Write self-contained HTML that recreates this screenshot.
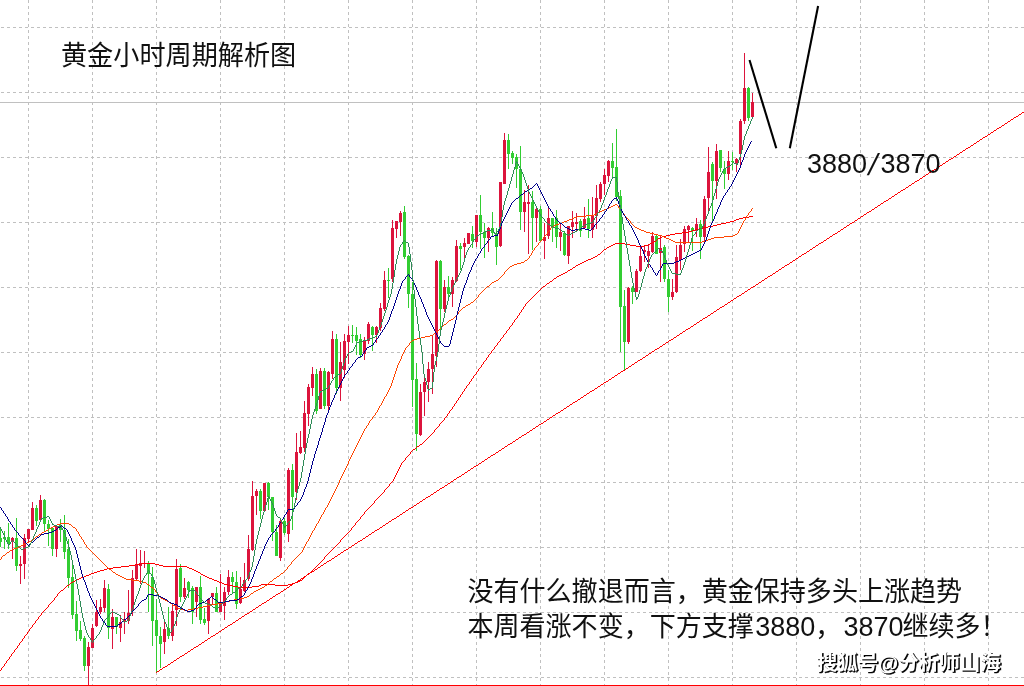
<!DOCTYPE html>
<html lang="zh-CN"><head><meta charset="utf-8"><title>黄金小时周期解析图</title>
<style>
html,body{margin:0;padding:0;background:#fff;}
body{width:1024px;height:686px;overflow:hidden;position:relative;}
svg{display:block;position:absolute;left:0;top:0;will-change:transform;}
.t{font-family:"Liberation Sans","Noto Sans CJK SC",sans-serif;fill:#111;}
</style></head><body>
<svg width="1024" height="686" viewBox="0 0 1024 686">
<rect x="0" y="0" width="1024" height="686" fill="#ffffff"/>
<g stroke="#c0c0c0" stroke-width="1" stroke-dasharray="3 3" shape-rendering="crispEdges" fill="none">
<line x1="28.5" y1="0" x2="28.5" y2="686"/>
<line x1="92.5" y1="0" x2="92.5" y2="686"/>
<line x1="156.5" y1="0" x2="156.5" y2="686"/>
<line x1="220.5" y1="0" x2="220.5" y2="686"/>
<line x1="284.5" y1="0" x2="284.5" y2="686"/>
<line x1="348.5" y1="0" x2="348.5" y2="686"/>
<line x1="412.5" y1="0" x2="412.5" y2="686"/>
<line x1="476.5" y1="0" x2="476.5" y2="686"/>
<line x1="540.5" y1="0" x2="540.5" y2="686"/>
<line x1="604.5" y1="0" x2="604.5" y2="686"/>
<line x1="668.5" y1="0" x2="668.5" y2="686"/>
<line x1="732.5" y1="0" x2="732.5" y2="686"/>
<line x1="796.5" y1="0" x2="796.5" y2="686"/>
<line x1="860.5" y1="0" x2="860.5" y2="686"/>
<line x1="924.5" y1="0" x2="924.5" y2="686"/>
<line x1="988.5" y1="0" x2="988.5" y2="686"/>
<line x1="1" y1="27.5" x2="1024" y2="27.5"/>
<line x1="1" y1="92.5" x2="1024" y2="92.5"/>
<line x1="1" y1="157.5" x2="1024" y2="157.5"/>
<line x1="1" y1="222.5" x2="1024" y2="222.5"/>
<line x1="1" y1="287.5" x2="1024" y2="287.5"/>
<line x1="1" y1="352.5" x2="1024" y2="352.5"/>
<line x1="1" y1="417.5" x2="1024" y2="417.5"/>
<line x1="1" y1="482.5" x2="1024" y2="482.5"/>
<line x1="1" y1="547.5" x2="1024" y2="547.5"/>
<line x1="1" y1="612.5" x2="1024" y2="612.5"/>
<line x1="1" y1="677.5" x2="1024" y2="677.5"/>
</g>
<line x1="0" y1="102.5" x2="1024" y2="102.5" stroke="#c0c0c0" stroke-width="1" shape-rendering="crispEdges"/>
<g fill="#32cd32" shape-rendering="crispEdges">
<rect x="0" y="527" width="1" height="20"/><rect x="-1" y="538" width="3" height="4"/>
<rect x="4" y="531" width="1" height="18"/><rect x="3" y="537" width="3" height="2"/>
<rect x="8" y="523" width="1" height="26"/><rect x="7" y="537" width="3" height="7"/>
<rect x="16" y="518" width="1" height="53"/><rect x="15" y="538" width="3" height="28"/>
<rect x="36" y="505" width="1" height="21"/><rect x="35" y="508" width="3" height="13"/>
<rect x="44" y="499" width="1" height="32"/><rect x="43" y="500" width="3" height="24"/>
<rect x="48" y="520" width="1" height="26"/><rect x="47" y="524" width="3" height="5"/>
<rect x="52" y="528" width="1" height="28"/><rect x="51" y="528" width="3" height="21"/>
<rect x="60" y="519" width="1" height="23"/><rect x="59" y="525" width="3" height="5"/>
<rect x="64" y="515" width="1" height="44"/><rect x="63" y="530" width="3" height="22"/>
<rect x="68" y="539" width="1" height="49"/><rect x="67" y="549" width="3" height="29"/>
<rect x="72" y="565" width="1" height="54"/><rect x="71" y="577" width="3" height="38"/>
<rect x="76" y="601" width="1" height="40"/><rect x="75" y="614" width="3" height="17"/>
<rect x="80" y="621" width="1" height="20"/><rect x="79" y="630" width="3" height="9"/>
<rect x="84" y="636" width="1" height="35"/><rect x="83" y="638" width="3" height="28"/>
<rect x="108" y="584" width="1" height="55"/><rect x="107" y="589" width="3" height="39"/>
<rect x="116" y="617" width="1" height="17"/><rect x="115" y="617" width="3" height="10"/>
<rect x="148" y="561" width="1" height="51"/><rect x="147" y="564" width="3" height="10"/>
<rect x="152" y="567" width="1" height="79"/><rect x="151" y="577" width="3" height="44"/>
<rect x="156" y="599" width="1" height="73"/><rect x="155" y="620" width="3" height="16"/>
<rect x="160" y="627" width="1" height="41"/><rect x="159" y="636" width="3" height="8"/>
<rect x="168" y="607" width="1" height="32"/><rect x="167" y="628" width="3" height="8"/>
<rect x="180" y="564" width="1" height="38"/><rect x="179" y="568" width="3" height="29"/>
<rect x="188" y="581" width="1" height="17"/><rect x="187" y="582" width="3" height="8"/>
<rect x="192" y="586" width="1" height="38"/><rect x="191" y="588" width="3" height="24"/>
<rect x="200" y="576" width="1" height="48"/><rect x="199" y="587" width="3" height="33"/>
<rect x="204" y="608" width="1" height="17"/><rect x="203" y="619" width="3" height="4"/>
<rect x="216" y="587" width="1" height="25"/><rect x="215" y="593" width="3" height="19"/>
<rect x="232" y="572" width="1" height="22"/><rect x="231" y="577" width="3" height="5"/>
<rect x="236" y="571" width="1" height="38"/><rect x="235" y="582" width="3" height="22"/>
<rect x="260" y="489" width="1" height="30"/><rect x="259" y="491" width="3" height="20"/>
<rect x="268" y="482" width="1" height="28"/><rect x="267" y="483" width="3" height="14"/>
<rect x="272" y="497" width="1" height="44"/><rect x="271" y="497" width="3" height="35"/>
<rect x="276" y="525" width="1" height="31"/><rect x="275" y="532" width="3" height="24"/>
<rect x="284" y="518" width="1" height="17"/><rect x="283" y="521" width="3" height="12"/>
<rect x="292" y="464" width="1" height="66"/><rect x="291" y="470" width="3" height="27"/>
<rect x="316" y="369" width="1" height="45"/><rect x="315" y="374" width="3" height="37"/>
<rect x="324" y="368" width="1" height="41"/><rect x="323" y="371" width="3" height="35"/>
<rect x="336" y="334" width="1" height="60"/><rect x="335" y="339" width="3" height="49"/>
<rect x="352" y="325" width="1" height="18"/><rect x="351" y="335" width="3" height="1"/>
<rect x="356" y="327" width="1" height="28"/><rect x="355" y="335" width="3" height="6"/>
<rect x="360" y="334" width="1" height="24"/><rect x="359" y="339" width="3" height="16"/>
<rect x="372" y="326" width="1" height="25"/><rect x="371" y="327" width="3" height="8"/>
<rect x="388" y="268" width="1" height="30"/><rect x="387" y="280" width="3" height="1"/>
<rect x="404" y="206" width="1" height="53"/><rect x="403" y="212" width="3" height="45"/>
<rect x="408" y="255" width="1" height="53"/><rect x="407" y="256" width="3" height="38"/>
<rect x="412" y="282" width="1" height="125"/><rect x="411" y="294" width="3" height="86"/>
<rect x="416" y="363" width="1" height="88"/><rect x="415" y="379" width="3" height="55"/>
<rect x="440" y="260" width="1" height="72"/><rect x="439" y="261" width="3" height="48"/>
<rect x="448" y="276" width="1" height="21"/><rect x="447" y="287" width="3" height="7"/>
<rect x="460" y="243" width="1" height="27"/><rect x="459" y="246" width="3" height="3"/>
<rect x="472" y="226" width="1" height="22"/><rect x="471" y="234" width="3" height="7"/>
<rect x="480" y="195" width="1" height="54"/><rect x="479" y="215" width="3" height="17"/>
<rect x="484" y="223" width="1" height="35"/><rect x="483" y="232" width="3" height="6"/>
<rect x="492" y="212" width="1" height="24"/><rect x="491" y="228" width="3" height="5"/>
<rect x="496" y="228" width="1" height="37"/><rect x="495" y="233" width="3" height="14"/>
<rect x="508" y="134" width="1" height="35"/><rect x="507" y="140" width="3" height="14"/>
<rect x="512" y="151" width="1" height="13"/><rect x="511" y="153" width="3" height="5"/>
<rect x="516" y="154" width="1" height="34"/><rect x="515" y="157" width="3" height="12"/>
<rect x="520" y="146" width="1" height="84"/><rect x="519" y="169" width="3" height="43"/>
<rect x="532" y="191" width="1" height="59"/><rect x="531" y="202" width="3" height="16"/>
<rect x="540" y="206" width="1" height="35"/><rect x="539" y="209" width="3" height="32"/>
<rect x="552" y="218" width="1" height="24"/><rect x="551" y="218" width="3" height="8"/>
<rect x="556" y="210" width="1" height="38"/><rect x="555" y="218" width="3" height="19"/>
<rect x="564" y="231" width="1" height="25"/><rect x="563" y="233" width="3" height="22"/>
<rect x="580" y="219" width="1" height="18"/><rect x="579" y="221" width="3" height="10"/>
<rect x="588" y="199" width="1" height="39"/><rect x="587" y="218" width="3" height="11"/>
<rect x="612" y="143" width="1" height="35"/><rect x="611" y="161" width="3" height="7"/>
<rect x="616" y="129" width="1" height="72"/><rect x="615" y="167" width="3" height="30"/>
<rect x="620" y="190" width="1" height="162"/><rect x="619" y="196" width="3" height="111"/>
<rect x="624" y="290" width="1" height="80"/><rect x="623" y="306" width="3" height="36"/>
<rect x="632" y="286" width="1" height="18"/><rect x="631" y="288" width="3" height="4"/>
<rect x="656" y="235" width="1" height="19"/><rect x="655" y="236" width="3" height="18"/>
<rect x="664" y="245" width="1" height="37"/><rect x="663" y="247" width="3" height="32"/>
<rect x="668" y="270" width="1" height="42"/><rect x="667" y="279" width="3" height="18"/>
<rect x="692" y="227" width="1" height="24"/><rect x="691" y="228" width="3" height="3"/>
<rect x="700" y="220" width="1" height="39"/><rect x="699" y="224" width="3" height="13"/>
<rect x="712" y="162" width="1" height="60"/><rect x="711" y="164" width="3" height="17"/>
<rect x="720" y="150" width="1" height="22"/><rect x="719" y="150" width="3" height="18"/>
<rect x="724" y="161" width="1" height="28"/><rect x="723" y="169" width="3" height="5"/>
<rect x="732" y="152" width="1" height="18"/><rect x="731" y="161" width="3" height="1"/>
<rect x="748" y="87" width="1" height="34"/><rect x="747" y="88" width="3" height="30"/>
</g>
<g fill="#dc143c" shape-rendering="crispEdges">
<rect x="12" y="537" width="1" height="22"/><rect x="11" y="538" width="3" height="3"/>
<rect x="20" y="556" width="1" height="28"/><rect x="19" y="564" width="3" height="2"/>
<rect x="24" y="534" width="1" height="45"/><rect x="23" y="538" width="3" height="26"/>
<rect x="28" y="529" width="1" height="13"/><rect x="27" y="529" width="3" height="10"/>
<rect x="32" y="502" width="1" height="28"/><rect x="31" y="508" width="3" height="22"/>
<rect x="40" y="495" width="1" height="25"/><rect x="39" y="500" width="3" height="20"/>
<rect x="56" y="526" width="1" height="31"/><rect x="55" y="526" width="3" height="23"/>
<rect x="88" y="642" width="1" height="43"/><rect x="87" y="647" width="3" height="19"/>
<rect x="92" y="624" width="1" height="24"/><rect x="91" y="628" width="3" height="20"/>
<rect x="96" y="600" width="1" height="27"/><rect x="95" y="612" width="3" height="14"/>
<rect x="100" y="599" width="1" height="15"/><rect x="99" y="607" width="3" height="5"/>
<rect x="104" y="580" width="1" height="32"/><rect x="103" y="588" width="3" height="20"/>
<rect x="112" y="609" width="1" height="40"/><rect x="111" y="617" width="3" height="12"/>
<rect x="120" y="615" width="1" height="27"/><rect x="119" y="622" width="3" height="6"/>
<rect x="124" y="612" width="1" height="22"/><rect x="123" y="619" width="3" height="3"/>
<rect x="128" y="590" width="1" height="34"/><rect x="127" y="613" width="3" height="8"/>
<rect x="132" y="570" width="1" height="46"/><rect x="131" y="578" width="3" height="33"/>
<rect x="136" y="549" width="1" height="32"/><rect x="135" y="564" width="3" height="15"/>
<rect x="140" y="550" width="1" height="34"/><rect x="139" y="563" width="3" height="3"/>
<rect x="144" y="551" width="1" height="17"/><rect x="143" y="563" width="3" height="1"/>
<rect x="164" y="621" width="1" height="33"/><rect x="163" y="629" width="3" height="13"/>
<rect x="172" y="605" width="1" height="36"/><rect x="171" y="611" width="3" height="25"/>
<rect x="176" y="559" width="1" height="67"/><rect x="175" y="569" width="3" height="41"/>
<rect x="184" y="578" width="1" height="21"/><rect x="183" y="588" width="3" height="9"/>
<rect x="196" y="587" width="1" height="30"/><rect x="195" y="587" width="3" height="15"/>
<rect x="208" y="598" width="1" height="36"/><rect x="207" y="599" width="3" height="22"/>
<rect x="212" y="593" width="1" height="11"/><rect x="211" y="593" width="3" height="4"/>
<rect x="220" y="574" width="1" height="38"/><rect x="219" y="602" width="3" height="10"/>
<rect x="224" y="587" width="1" height="33"/><rect x="223" y="592" width="3" height="14"/>
<rect x="228" y="570" width="1" height="25"/><rect x="227" y="577" width="3" height="15"/>
<rect x="240" y="577" width="1" height="27"/><rect x="239" y="589" width="3" height="14"/>
<rect x="244" y="563" width="1" height="29"/><rect x="243" y="580" width="3" height="11"/>
<rect x="248" y="535" width="1" height="46"/><rect x="247" y="549" width="3" height="30"/>
<rect x="252" y="481" width="1" height="70"/><rect x="251" y="496" width="3" height="54"/>
<rect x="256" y="489" width="1" height="26"/><rect x="255" y="491" width="3" height="5"/>
<rect x="264" y="483" width="1" height="29"/><rect x="263" y="483" width="3" height="28"/>
<rect x="280" y="520" width="1" height="41"/><rect x="279" y="521" width="3" height="37"/>
<rect x="288" y="468" width="1" height="74"/><rect x="287" y="470" width="3" height="64"/>
<rect x="296" y="433" width="1" height="67"/><rect x="295" y="452" width="3" height="40"/>
<rect x="300" y="431" width="1" height="23"/><rect x="299" y="447" width="3" height="6"/>
<rect x="304" y="401" width="1" height="51"/><rect x="303" y="413" width="3" height="35"/>
<rect x="308" y="384" width="1" height="42"/><rect x="307" y="387" width="3" height="27"/>
<rect x="312" y="367" width="1" height="29"/><rect x="311" y="374" width="3" height="14"/>
<rect x="320" y="368" width="1" height="41"/><rect x="319" y="371" width="3" height="38"/>
<rect x="328" y="371" width="1" height="39"/><rect x="327" y="372" width="3" height="34"/>
<rect x="332" y="331" width="1" height="48"/><rect x="331" y="339" width="3" height="35"/>
<rect x="340" y="342" width="1" height="59"/><rect x="339" y="362" width="3" height="26"/>
<rect x="344" y="334" width="1" height="44"/><rect x="343" y="341" width="3" height="29"/>
<rect x="348" y="326" width="1" height="38"/><rect x="347" y="335" width="3" height="7"/>
<rect x="364" y="337" width="1" height="23"/><rect x="363" y="340" width="3" height="14"/>
<rect x="368" y="322" width="1" height="22"/><rect x="367" y="324" width="3" height="17"/>
<rect x="376" y="326" width="1" height="17"/><rect x="375" y="327" width="3" height="8"/>
<rect x="380" y="303" width="1" height="28"/><rect x="379" y="308" width="3" height="20"/>
<rect x="384" y="271" width="1" height="40"/><rect x="383" y="280" width="3" height="29"/>
<rect x="392" y="220" width="1" height="62"/><rect x="391" y="228" width="3" height="51"/>
<rect x="396" y="221" width="1" height="17"/><rect x="395" y="221" width="3" height="8"/>
<rect x="400" y="211" width="1" height="25"/><rect x="399" y="213" width="3" height="9"/>
<rect x="420" y="384" width="1" height="52"/><rect x="419" y="392" width="3" height="43"/>
<rect x="424" y="378" width="1" height="38"/><rect x="423" y="382" width="3" height="10"/>
<rect x="428" y="362" width="1" height="40"/><rect x="427" y="369" width="3" height="13"/>
<rect x="432" y="335" width="1" height="59"/><rect x="431" y="354" width="3" height="15"/>
<rect x="436" y="260" width="1" height="107"/><rect x="435" y="261" width="3" height="95"/>
<rect x="444" y="280" width="1" height="32"/><rect x="443" y="287" width="3" height="22"/>
<rect x="452" y="277" width="1" height="30"/><rect x="451" y="280" width="3" height="14"/>
<rect x="456" y="240" width="1" height="42"/><rect x="455" y="246" width="3" height="35"/>
<rect x="464" y="238" width="1" height="21"/><rect x="463" y="243" width="3" height="4"/>
<rect x="468" y="233" width="1" height="11"/><rect x="467" y="233" width="3" height="11"/>
<rect x="476" y="215" width="1" height="32"/><rect x="475" y="215" width="3" height="27"/>
<rect x="488" y="227" width="1" height="25"/><rect x="487" y="228" width="3" height="10"/>
<rect x="500" y="182" width="1" height="65"/><rect x="499" y="182" width="3" height="64"/>
<rect x="504" y="133" width="1" height="51"/><rect x="503" y="140" width="3" height="44"/>
<rect x="524" y="190" width="1" height="42"/><rect x="523" y="202" width="3" height="10"/>
<rect x="528" y="185" width="1" height="69"/><rect x="527" y="202" width="3" height="2"/>
<rect x="536" y="207" width="1" height="35"/><rect x="535" y="209" width="3" height="9"/>
<rect x="544" y="223" width="1" height="36"/><rect x="543" y="237" width="3" height="4"/>
<rect x="548" y="208" width="1" height="31"/><rect x="547" y="218" width="3" height="18"/>
<rect x="560" y="224" width="1" height="27"/><rect x="559" y="232" width="3" height="5"/>
<rect x="568" y="226" width="1" height="38"/><rect x="567" y="226" width="3" height="30"/>
<rect x="572" y="211" width="1" height="27"/><rect x="571" y="222" width="3" height="5"/>
<rect x="576" y="213" width="1" height="19"/><rect x="575" y="222" width="3" height="2"/>
<rect x="584" y="207" width="1" height="22"/><rect x="583" y="219" width="3" height="9"/>
<rect x="592" y="197" width="1" height="41"/><rect x="591" y="216" width="3" height="14"/>
<rect x="596" y="185" width="1" height="44"/><rect x="595" y="198" width="3" height="18"/>
<rect x="600" y="182" width="1" height="20"/><rect x="599" y="184" width="3" height="15"/>
<rect x="604" y="169" width="1" height="26"/><rect x="603" y="175" width="3" height="9"/>
<rect x="608" y="160" width="1" height="22"/><rect x="607" y="161" width="3" height="15"/>
<rect x="628" y="287" width="1" height="57"/><rect x="627" y="288" width="3" height="54"/>
<rect x="636" y="269" width="1" height="23"/><rect x="635" y="271" width="3" height="21"/>
<rect x="640" y="246" width="1" height="26"/><rect x="639" y="256" width="3" height="15"/>
<rect x="644" y="246" width="1" height="16"/><rect x="643" y="250" width="3" height="2"/>
<rect x="648" y="245" width="1" height="23"/><rect x="647" y="251" width="3" height="5"/>
<rect x="652" y="232" width="1" height="21"/><rect x="651" y="236" width="3" height="16"/>
<rect x="660" y="236" width="1" height="46"/><rect x="659" y="248" width="3" height="5"/>
<rect x="672" y="279" width="1" height="21"/><rect x="671" y="292" width="3" height="5"/>
<rect x="676" y="245" width="1" height="48"/><rect x="675" y="257" width="3" height="35"/>
<rect x="680" y="239" width="1" height="31"/><rect x="679" y="245" width="3" height="15"/>
<rect x="684" y="226" width="1" height="26"/><rect x="683" y="229" width="3" height="15"/>
<rect x="688" y="225" width="1" height="18"/><rect x="687" y="226" width="3" height="4"/>
<rect x="696" y="218" width="1" height="19"/><rect x="695" y="224" width="3" height="7"/>
<rect x="704" y="196" width="1" height="45"/><rect x="703" y="199" width="3" height="38"/>
<rect x="708" y="147" width="1" height="65"/><rect x="707" y="172" width="3" height="26"/>
<rect x="716" y="144" width="1" height="55"/><rect x="715" y="151" width="3" height="30"/>
<rect x="728" y="151" width="1" height="29"/><rect x="727" y="161" width="3" height="13"/>
<rect x="736" y="158" width="1" height="14"/><rect x="735" y="159" width="3" height="5"/>
<rect x="740" y="119" width="1" height="49"/><rect x="739" y="121" width="3" height="33"/>
<rect x="744" y="53" width="1" height="71"/><rect x="743" y="88" width="3" height="33"/>
<rect x="752" y="93" width="1" height="26"/><rect x="751" y="102" width="3" height="15"/>
</g>
<path fill="#ff0000" shape-rendering="crispEdges" d="M1 668h1v2h-1zM4 664h1v2h-1zM6 661h1v2h-1zM9 657h1v2h-1zM11 654h1v2h-1zM14 650h1v2h-1zM17 646h1v2h-1zM19 643h1v2h-1zM22 639h1v2h-1zM24 636h1v2h-1zM27 632h1v2h-1zM29 629h1v2h-1zM32 625h1v2h-1zM35 621h1v2h-1zM38 617h1v2h-1zM41 613h1v2h-1zM48 605h1v2h-1zM54 598h1v2h-1zM57 594h1v2h-1zM324 557h1v2h-1zM340 540h1v2h-1zM351 528h1v2h-1zM355 523h1v2h-1zM360 517h1v2h-1zM364 512h1v2h-1zM374 501h1v2h-1zM384 490h1v2h-1zM389 484h1v2h-1zM393 479h1v2h-1zM394 477h1v2h-1zM395 475h1v2h-1zM396 473h1v2h-1zM397 471h1v2h-1zM398 469h1v2h-1zM399 467h1v2h-1zM400 465h1v2h-1zM401 463h1v2h-1zM405 458h1v2h-1zM410 452h1v2h-1zM434 430h1v2h-1zM439 424h1v2h-1zM444 418h1v2h-1zM447 414h1v2h-1zM449 411h1v2h-1zM452 407h1v2h-1zM454 404h1v2h-1zM456 401h1v2h-1zM458 398h1v2h-1zM460 395h1v2h-1zM462 392h1v2h-1zM464 389h1v2h-1zM466 386h1v2h-1zM469 382h1v2h-1zM471 379h1v2h-1zM473 376h1v2h-1zM476 372h1v2h-1zM478 369h1v2h-1zM481 365h1v2h-1zM483 362h1v2h-1zM486 358h1v2h-1zM488 355h1v2h-1zM491 351h1v2h-1zM494 347h1v2h-1zM497 343h1v2h-1zM500 339h1v2h-1zM503 335h1v2h-1zM506 331h1v2h-1zM509 327h1v2h-1zM512 323h1v2h-1zM514 320h1v2h-1zM517 316h1v2h-1zM519 313h1v2h-1zM521 310h1v2h-1zM523 307h1v2h-1zM525 304h1v2h-1zM749 216h4v1h-4zM743 217h6v1h-6zM739 218h4v1h-4zM736 219h3v1h-3zM734 220h2v1h-2zM730 221h4v1h-4zM726 222h4v1h-4zM721 223h5v1h-5zM717 224h4v1h-4zM713 225h4v1h-4zM708 226h5v1h-5zM703 227h5v1h-5zM699 228h4v1h-4zM695 229h4v1h-4zM692 230h3v1h-3zM689 231h3v1h-3zM682 232h7v1h-7zM675 233h7v1h-7zM670 234h5v1h-5zM666 235h4v1h-4zM662 236h4v1h-4zM660 237h2v1h-2zM658 238h2v1h-2zM657 239h1v1h-1zM656 240h1v1h-1zM654 241h2v1h-2zM652 242h2v1h-2zM615 243h10v1h-10zM650 243h2v1h-2zM613 244h2v1h-2zM625 244h5v1h-5zM648 244h2v1h-2zM611 245h2v1h-2zM630 245h6v1h-6zM644 245h4v1h-4zM609 246h2v1h-2zM636 246h8v1h-8zM607 247h2v1h-2zM606 248h1v1h-1zM604 249h2v1h-2zM603 250h1v1h-1zM602 251h1v1h-1zM601 252h1v1h-1zM600 253h1v1h-1zM598 254h2v1h-2zM597 255h1v1h-1zM595 256h2v1h-2zM593 257h2v1h-2zM591 258h2v1h-2zM588 259h3v1h-3zM586 260h2v1h-2zM584 261h2v1h-2zM582 262h2v1h-2zM580 263h2v1h-2zM578 264h2v1h-2zM576 265h2v1h-2zM575 266h1v1h-1zM573 267h2v1h-2zM572 268h1v1h-1zM570 269h2v1h-2zM568 270h2v1h-2zM567 271h1v1h-1zM565 272h2v1h-2zM563 273h2v1h-2zM561 274h2v1h-2zM559 275h2v1h-2zM557 276h2v1h-2zM556 277h1v1h-1zM554 278h2v1h-2zM553 279h1v1h-1zM552 280h1v1h-1zM550 281h2v1h-2zM549 282h1v1h-1zM547 283h2v1h-2zM546 284h1v1h-1zM545 285h1v1h-1zM543 286h2v1h-2zM542 287h1v1h-1zM541 288h1v1h-1zM540 289h1v1h-1zM539 290h1v1h-1zM538 291h1v1h-1zM537 292h1v1h-1zM536 293h1v1h-1zM535 294h1v1h-1zM534 295h1v1h-1zM533 296h1v1h-1zM532 297h1v1h-1zM531 298h1v1h-1zM530 299h1v1h-1zM529 300h1v1h-1zM528 301h1v1h-1zM527 302h1v1h-1zM526 303h1v1h-1zM524 306h1v1h-1zM522 309h1v1h-1zM520 312h1v1h-1zM518 315h1v1h-1zM516 318h1v1h-1zM515 319h1v1h-1zM513 322h1v1h-1zM511 325h1v1h-1zM510 326h1v1h-1zM508 329h1v1h-1zM507 330h1v1h-1zM505 333h1v1h-1zM504 334h1v1h-1zM502 337h1v1h-1zM501 338h1v1h-1zM499 341h1v1h-1zM498 342h1v1h-1zM496 345h1v1h-1zM495 346h1v1h-1zM493 349h1v1h-1zM492 350h1v1h-1zM490 353h1v1h-1zM489 354h1v1h-1zM487 357h1v1h-1zM485 360h1v1h-1zM484 361h1v1h-1zM482 364h1v1h-1zM480 367h1v1h-1zM479 368h1v1h-1zM477 371h1v1h-1zM475 374h1v1h-1zM474 375h1v1h-1zM472 378h1v1h-1zM470 381h1v1h-1zM468 384h1v1h-1zM467 385h1v1h-1zM465 388h1v1h-1zM463 391h1v1h-1zM461 394h1v1h-1zM459 397h1v1h-1zM457 400h1v1h-1zM455 403h1v1h-1zM453 406h1v1h-1zM451 409h1v1h-1zM450 410h1v1h-1zM448 413h1v1h-1zM446 416h1v1h-1zM445 417h1v1h-1zM443 420h1v1h-1zM442 421h1v1h-1zM441 422h1v1h-1zM440 423h1v1h-1zM438 426h1v1h-1zM437 427h1v1h-1zM436 428h1v1h-1zM435 429h1v1h-1zM433 432h1v1h-1zM432 433h1v1h-1zM431 434h1v1h-1zM430 435h1v1h-1zM429 436h1v1h-1zM428 437h1v1h-1zM427 438h1v1h-1zM426 439h1v1h-1zM425 440h1v1h-1zM424 441h1v1h-1zM423 442h1v1h-1zM422 443h1v1h-1zM420 444h2v1h-2zM419 445h1v1h-1zM417 446h2v1h-2zM416 447h1v1h-1zM415 448h1v1h-1zM413 449h2v1h-2zM412 450h1v1h-1zM411 451h1v1h-1zM409 454h1v1h-1zM408 455h1v1h-1zM407 456h1v1h-1zM406 457h1v1h-1zM404 460h1v1h-1zM403 461h1v1h-1zM402 462h1v1h-1zM392 481h1v1h-1zM391 482h1v1h-1zM390 483h1v1h-1zM388 486h1v1h-1zM387 487h1v1h-1zM386 488h1v1h-1zM385 489h1v1h-1zM383 492h1v1h-1zM382 493h1v1h-1zM381 494h1v1h-1zM380 495h1v1h-1zM379 496h1v1h-1zM378 497h1v1h-1zM377 498h1v1h-1zM376 499h1v1h-1zM375 500h1v1h-1zM373 503h1v1h-1zM372 504h1v1h-1zM371 505h1v1h-1zM370 506h1v1h-1zM369 507h1v1h-1zM368 508h1v1h-1zM367 509h1v1h-1zM366 510h1v1h-1zM365 511h1v1h-1zM363 514h1v1h-1zM362 515h1v1h-1zM361 516h1v1h-1zM359 519h1v1h-1zM358 520h1v1h-1zM357 521h1v1h-1zM356 522h1v1h-1zM354 525h1v1h-1zM353 526h1v1h-1zM352 527h1v1h-1zM350 530h1v1h-1zM349 531h1v1h-1zM348 532h1v1h-1zM347 533h1v1h-1zM346 534h1v1h-1zM345 535h1v1h-1zM344 536h1v1h-1zM343 537h1v1h-1zM342 538h1v1h-1zM341 539h1v1h-1zM339 542h1v1h-1zM338 543h1v1h-1zM337 544h1v1h-1zM336 545h1v1h-1zM335 546h1v1h-1zM334 547h1v1h-1zM333 548h1v1h-1zM332 549h1v1h-1zM331 550h1v1h-1zM330 551h1v1h-1zM329 552h1v1h-1zM328 553h1v1h-1zM327 554h1v1h-1zM326 555h1v1h-1zM325 556h1v1h-1zM323 559h1v1h-1zM322 560h1v1h-1zM321 561h1v1h-1zM320 562h1v1h-1zM141 563h14v1h-14zM319 563h1v1h-1zM135 564h6v1h-6zM155 564h4v1h-4zM318 564h1v1h-1zM129 565h6v1h-6zM159 565h4v1h-4zM317 565h1v1h-1zM121 566h8v1h-8zM163 566h24v1h-24zM316 566h1v1h-1zM113 567h8v1h-8zM187 567h2v1h-2zM315 567h1v1h-1zM107 568h6v1h-6zM189 568h3v1h-3zM314 568h1v1h-1zM104 569h3v1h-3zM192 569h2v1h-2zM313 569h1v1h-1zM100 570h4v1h-4zM194 570h2v1h-2zM312 570h1v1h-1zM97 571h3v1h-3zM196 571h2v1h-2zM311 571h1v1h-1zM94 572h3v1h-3zM198 572h2v1h-2zM310 572h1v1h-1zM91 573h3v1h-3zM200 573h1v1h-1zM308 573h2v1h-2zM89 574h2v1h-2zM201 574h2v1h-2zM307 574h1v1h-1zM86 575h3v1h-3zM203 575h2v1h-2zM306 575h1v1h-1zM84 576h2v1h-2zM205 576h2v1h-2zM305 576h1v1h-1zM81 577h3v1h-3zM207 577h2v1h-2zM304 577h1v1h-1zM79 578h2v1h-2zM209 578h3v1h-3zM303 578h1v1h-1zM77 579h2v1h-2zM212 579h2v1h-2zM302 579h1v1h-1zM75 580h2v1h-2zM214 580h3v1h-3zM300 580h2v1h-2zM73 581h2v1h-2zM217 581h2v1h-2zM298 581h2v1h-2zM71 582h2v1h-2zM219 582h3v1h-3zM295 582h3v1h-3zM70 583h1v1h-1zM222 583h2v1h-2zM292 583h3v1h-3zM69 584h1v1h-1zM224 584h4v1h-4zM261 584h14v1h-14zM288 584h4v1h-4zM67 585h2v1h-2zM228 585h5v1h-5zM259 585h2v1h-2zM275 585h13v1h-13zM66 586h1v1h-1zM233 586h5v1h-5zM252 586h7v1h-7zM65 587h1v1h-1zM238 587h14v1h-14zM64 588h1v1h-1zM63 589h1v1h-1zM61 590h2v1h-2zM60 591h1v1h-1zM59 592h1v1h-1zM58 593h1v1h-1zM56 596h1v1h-1zM55 597h1v1h-1zM53 600h1v1h-1zM52 601h1v1h-1zM51 602h1v1h-1zM50 603h1v1h-1zM49 604h1v1h-1zM47 607h1v1h-1zM46 608h1v1h-1zM45 609h1v1h-1zM44 610h1v1h-1zM43 611h1v1h-1zM42 612h1v1h-1zM40 615h1v1h-1zM39 616h1v1h-1zM37 619h1v1h-1zM36 620h1v1h-1zM34 623h1v1h-1zM33 624h1v1h-1zM31 627h1v1h-1zM30 628h1v1h-1zM28 631h1v1h-1zM26 634h1v1h-1zM25 635h1v1h-1zM23 638h1v1h-1zM21 641h1v1h-1zM20 642h1v1h-1zM18 645h1v1h-1zM16 648h1v1h-1zM15 649h1v1h-1zM13 652h1v1h-1zM12 653h1v1h-1zM10 656h1v1h-1zM8 659h1v1h-1zM7 660h1v1h-1zM5 663h1v1h-1zM3 666h1v1h-1zM2 667h1v1h-1zM0 670h1v1h-1z"/>
<path fill="#ff4500" shape-rendering="crispEdges" d="M1 557h1v2h-1zM76 529h1v2h-1zM78 532h1v2h-1zM79 534h1v2h-1zM81 537h1v2h-1zM83 540h1v2h-1zM84 542h1v2h-1zM86 545h1v2h-1zM155 590h1v2h-1zM158 594h1v2h-1zM287 567h1v2h-1zM291 562h1v2h-1zM302 550h1v2h-1zM303 548h1v2h-1zM304 546h1v2h-1zM305 544h1v2h-1zM306 542h1v2h-1zM308 539h1v2h-1zM309 537h1v2h-1zM310 535h1v2h-1zM311 533h1v2h-1zM312 531h1v2h-1zM314 528h1v2h-1zM315 526h1v2h-1zM316 524h1v2h-1zM318 521h1v2h-1zM319 519h1v2h-1zM320 517h1v2h-1zM321 515h1v2h-1zM323 512h1v2h-1zM324 510h1v2h-1zM325 508h1v2h-1zM327 505h1v2h-1zM328 503h1v2h-1zM329 501h1v2h-1zM330 499h1v2h-1zM331 497h1v2h-1zM332 495h1v2h-1zM333 493h1v2h-1zM334 491h1v2h-1zM335 489h1v2h-1zM336 487h1v2h-1zM337 485h1v2h-1zM338 483h1v2h-1zM339 480h1v3h-1zM340 478h1v2h-1zM341 476h1v2h-1zM342 474h1v2h-1zM343 472h1v2h-1zM344 470h1v2h-1zM345 468h1v2h-1zM346 466h1v2h-1zM347 464h1v2h-1zM348 461h1v3h-1zM349 459h1v2h-1zM350 457h1v2h-1zM351 455h1v2h-1zM352 453h1v2h-1zM353 451h1v2h-1zM354 449h1v2h-1zM355 447h1v2h-1zM356 445h1v2h-1zM357 443h1v2h-1zM358 441h1v2h-1zM359 439h1v2h-1zM360 437h1v2h-1zM361 435h1v2h-1zM362 433h1v2h-1zM363 431h1v2h-1zM364 429h1v2h-1zM366 426h1v2h-1zM368 423h1v2h-1zM369 421h1v2h-1zM372 417h1v2h-1zM375 413h1v2h-1zM377 410h1v2h-1zM378 408h1v2h-1zM379 406h1v2h-1zM381 403h1v2h-1zM382 401h1v2h-1zM383 399h1v2h-1zM384 397h1v2h-1zM386 394h1v2h-1zM387 392h1v2h-1zM388 390h1v2h-1zM389 388h1v2h-1zM390 386h1v2h-1zM391 383h1v3h-1zM392 380h1v3h-1zM393 377h1v3h-1zM394 374h1v3h-1zM395 371h1v3h-1zM396 368h1v3h-1zM397 365h1v3h-1zM398 363h1v2h-1zM399 361h1v2h-1zM400 359h1v2h-1zM401 356h1v3h-1zM402 354h1v2h-1zM403 352h1v2h-1zM404 350h1v2h-1zM405 348h1v2h-1zM409 343h1v2h-1zM458 312h1v2h-1zM478 295h1v2h-1zM504 272h1v2h-1zM529 256h1v2h-1zM531 253h1v2h-1zM532 251h1v2h-1zM534 248h1v2h-1zM538 243h1v2h-1zM543 237h1v2h-1zM547 232h1v2h-1zM550 228h1v2h-1zM618 206h1v2h-1zM621 210h1v2h-1zM624 214h1v2h-1zM630 221h1v2h-1zM738 231h1v2h-1zM739 229h1v2h-1zM740 227h1v2h-1zM741 225h1v2h-1zM742 223h1v2h-1zM743 221h1v2h-1zM745 218h1v2h-1zM746 216h1v2h-1zM748 213h1v2h-1zM751 209h1v2h-1zM615 204h2v1h-2zM613 205h2v1h-2zM617 205h1v1h-1zM611 206h2v1h-2zM609 207h2v1h-2zM607 208h2v1h-2zM619 208h1v1h-1zM752 208h1v1h-1zM604 209h3v1h-3zM620 209h1v1h-1zM602 210h2v1h-2zM600 211h2v1h-2zM750 211h1v1h-1zM598 212h2v1h-2zM622 212h1v1h-1zM749 212h1v1h-1zM596 213h2v1h-2zM623 213h1v1h-1zM594 214h2v1h-2zM586 215h8v1h-8zM747 215h1v1h-1zM577 216h9v1h-9zM625 216h1v1h-1zM574 217h3v1h-3zM626 217h1v1h-1zM572 218h2v1h-2zM627 218h1v1h-1zM569 219h3v1h-3zM628 219h1v1h-1zM567 220h2v1h-2zM629 220h1v1h-1zM744 220h1v1h-1zM564 221h3v1h-3zM562 222h2v1h-2zM559 223h3v1h-3zM631 223h1v1h-1zM556 224h3v1h-3zM632 224h1v1h-1zM554 225h2v1h-2zM633 225h1v1h-1zM552 226h2v1h-2zM634 226h1v1h-1zM551 227h1v1h-1zM635 227h2v1h-2zM637 228h2v1h-2zM639 229h2v1h-2zM549 230h1v1h-1zM641 230h3v1h-3zM548 231h1v1h-1zM644 231h2v1h-2zM646 232h4v1h-4zM650 233h4v1h-4zM737 233h1v1h-1zM546 234h1v1h-1zM654 234h4v1h-4zM735 234h2v1h-2zM545 235h1v1h-1zM658 235h4v1h-4zM733 235h2v1h-2zM544 236h1v1h-1zM662 236h2v1h-2zM724 236h9v1h-9zM664 237h2v1h-2zM714 237h10v1h-10zM666 238h3v1h-3zM711 238h3v1h-3zM542 239h1v1h-1zM669 239h2v1h-2zM708 239h3v1h-3zM541 240h1v1h-1zM671 240h2v1h-2zM705 240h3v1h-3zM540 241h1v1h-1zM673 241h2v1h-2zM702 241h3v1h-3zM539 242h1v1h-1zM675 242h27v1h-27zM537 245h1v1h-1zM536 246h1v1h-1zM535 247h1v1h-1zM533 250h1v1h-1zM530 255h1v1h-1zM528 258h1v1h-1zM527 259h1v1h-1zM525 260h2v1h-2zM524 261h1v1h-1zM521 262h3v1h-3zM517 263h4v1h-4zM514 264h3v1h-3zM512 265h2v1h-2zM510 266h2v1h-2zM509 267h1v1h-1zM508 268h1v1h-1zM507 269h1v1h-1zM506 270h1v1h-1zM505 271h1v1h-1zM503 274h1v1h-1zM502 275h1v1h-1zM501 276h1v1h-1zM500 277h1v1h-1zM499 278h1v1h-1zM498 279h1v1h-1zM496 280h2v1h-2zM494 281h2v1h-2zM492 282h2v1h-2zM491 283h1v1h-1zM490 284h1v1h-1zM489 285h1v1h-1zM487 286h2v1h-2zM486 287h1v1h-1zM485 288h1v1h-1zM484 289h1v1h-1zM483 290h1v1h-1zM482 291h1v1h-1zM481 292h1v1h-1zM480 293h1v1h-1zM479 294h1v1h-1zM477 297h1v1h-1zM476 298h1v1h-1zM475 299h1v1h-1zM474 300h1v1h-1zM473 301h1v1h-1zM471 302h2v1h-2zM470 303h1v1h-1zM468 304h2v1h-2zM466 305h2v1h-2zM465 306h1v1h-1zM463 307h2v1h-2zM462 308h1v1h-1zM461 309h1v1h-1zM460 310h1v1h-1zM459 311h1v1h-1zM457 314h1v1h-1zM456 315h1v1h-1zM455 316h1v1h-1zM454 317h1v1h-1zM453 318h1v1h-1zM451 319h2v1h-2zM449 320h2v1h-2zM448 321h1v1h-1zM447 322h1v1h-1zM446 323h1v1h-1zM444 324h2v1h-2zM443 325h1v1h-1zM442 326h1v1h-1zM441 327h1v1h-1zM440 328h1v1h-1zM439 329h1v1h-1zM438 330h1v1h-1zM436 331h2v1h-2zM435 332h1v1h-1zM434 333h1v1h-1zM433 334h1v1h-1zM430 335h3v1h-3zM425 336h5v1h-5zM421 337h4v1h-4zM417 338h4v1h-4zM414 339h3v1h-3zM412 340h2v1h-2zM411 341h1v1h-1zM410 342h1v1h-1zM408 345h1v1h-1zM407 346h1v1h-1zM406 347h1v1h-1zM385 396h1v1h-1zM380 405h1v1h-1zM376 412h1v1h-1zM374 415h1v1h-1zM373 416h1v1h-1zM371 419h1v1h-1zM370 420h1v1h-1zM367 425h1v1h-1zM365 428h1v1h-1zM326 507h1v1h-1zM322 514h1v1h-1zM60 523h9v1h-9zM317 523h1v1h-1zM57 524h3v1h-3zM69 524h2v1h-2zM55 525h2v1h-2zM71 525h1v1h-1zM53 526h2v1h-2zM72 526h1v1h-1zM51 527h2v1h-2zM73 527h2v1h-2zM49 528h2v1h-2zM75 528h1v1h-1zM48 529h1v1h-1zM46 530h2v1h-2zM313 530h1v1h-1zM44 531h2v1h-2zM77 531h1v1h-1zM42 532h2v1h-2zM41 533h1v1h-1zM39 534h2v1h-2zM38 535h1v1h-1zM36 536h2v1h-2zM80 536h1v1h-1zM35 537h1v1h-1zM34 538h1v1h-1zM32 539h2v1h-2zM82 539h1v1h-1zM31 540h1v1h-1zM29 541h2v1h-2zM307 541h1v1h-1zM27 542h2v1h-2zM25 543h2v1h-2zM23 544h2v1h-2zM85 544h1v1h-1zM21 545h2v1h-2zM19 546h2v1h-2zM17 547h2v1h-2zM87 547h1v1h-1zM14 548h3v1h-3zM88 548h1v1h-1zM12 549h2v1h-2zM89 549h1v1h-1zM10 550h2v1h-2zM90 550h1v1h-1zM9 551h1v1h-1zM91 551h1v1h-1zM7 552h2v1h-2zM92 552h1v1h-1zM301 552h1v1h-1zM6 553h1v1h-1zM93 553h1v1h-1zM300 553h1v1h-1zM5 554h1v1h-1zM94 554h1v1h-1zM299 554h1v1h-1zM3 555h2v1h-2zM95 555h1v1h-1zM298 555h1v1h-1zM2 556h1v1h-1zM96 556h1v1h-1zM297 556h1v1h-1zM97 557h1v1h-1zM296 557h1v1h-1zM98 558h1v1h-1zM295 558h1v1h-1zM0 559h1v1h-1zM99 559h1v1h-1zM294 559h1v1h-1zM100 560h1v1h-1zM293 560h1v1h-1zM101 561h1v1h-1zM292 561h1v1h-1zM102 562h1v1h-1zM103 563h1v1h-1zM104 564h1v1h-1zM290 564h1v1h-1zM105 565h1v1h-1zM289 565h1v1h-1zM106 566h1v1h-1zM288 566h1v1h-1zM107 567h1v1h-1zM108 568h1v1h-1zM109 569h2v1h-2zM286 569h1v1h-1zM111 570h1v1h-1zM285 570h1v1h-1zM112 571h1v1h-1zM284 571h1v1h-1zM113 572h2v1h-2zM283 572h1v1h-1zM115 573h1v1h-1zM281 573h2v1h-2zM116 574h2v1h-2zM280 574h1v1h-1zM118 575h2v1h-2zM279 575h1v1h-1zM120 576h2v1h-2zM277 576h2v1h-2zM122 577h2v1h-2zM276 577h1v1h-1zM124 578h2v1h-2zM274 578h2v1h-2zM126 579h6v1h-6zM273 579h1v1h-1zM132 580h7v1h-7zM272 580h1v1h-1zM139 581h4v1h-4zM270 581h2v1h-2zM143 582h3v1h-3zM269 582h1v1h-1zM146 583h1v1h-1zM268 583h1v1h-1zM147 584h2v1h-2zM267 584h1v1h-1zM149 585h1v1h-1zM265 585h2v1h-2zM150 586h1v1h-1zM264 586h1v1h-1zM151 587h2v1h-2zM262 587h2v1h-2zM153 588h1v1h-1zM260 588h2v1h-2zM154 589h1v1h-1zM258 589h2v1h-2zM256 590h2v1h-2zM254 591h2v1h-2zM156 592h1v1h-1zM253 592h1v1h-1zM157 593h1v1h-1zM251 593h2v1h-2zM250 594h1v1h-1zM249 595h1v1h-1zM159 596h1v1h-1zM247 596h2v1h-2zM160 597h1v1h-1zM244 597h3v1h-3zM161 598h2v1h-2zM239 598h5v1h-5zM163 599h2v1h-2zM234 599h5v1h-5zM165 600h2v1h-2zM230 600h4v1h-4zM167 601h2v1h-2zM226 601h4v1h-4zM169 602h1v1h-1zM222 602h4v1h-4zM170 603h2v1h-2zM217 603h5v1h-5zM172 604h1v1h-1zM211 604h6v1h-6zM173 605h2v1h-2zM207 605h4v1h-4zM175 606h1v1h-1zM203 606h4v1h-4zM176 607h2v1h-2zM198 607h5v1h-5zM178 608h2v1h-2zM193 608h5v1h-5zM180 609h4v1h-4zM188 609h5v1h-5zM184 610h4v1h-4z"/>
<path fill="#00008b" shape-rendering="crispEdges" d="M1 508h1v2h-1zM3 511h1v2h-1zM5 514h1v2h-1zM7 517h1v2h-1zM8 519h1v2h-1zM10 522h1v2h-1zM12 525h1v2h-1zM14 528h1v2h-1zM18 533h1v2h-1zM25 541h1v2h-1zM67 530h1v2h-1zM68 532h1v2h-1zM69 534h1v2h-1zM70 536h1v2h-1zM71 538h1v3h-1zM72 541h1v2h-1zM73 543h1v2h-1zM74 545h1v2h-1zM75 547h1v3h-1zM76 550h1v4h-1zM77 554h1v4h-1zM78 558h1v4h-1zM79 562h1v4h-1zM80 566h1v4h-1zM81 570h1v4h-1zM82 574h1v3h-1zM83 577h1v3h-1zM84 580h1v2h-1zM85 582h1v3h-1zM86 585h1v3h-1zM87 588h1v3h-1zM88 591h1v2h-1zM89 593h1v3h-1zM90 596h1v2h-1zM91 598h1v2h-1zM92 600h1v2h-1zM93 602h1v2h-1zM94 604h1v2h-1zM95 606h1v2h-1zM96 608h1v2h-1zM97 610h1v2h-1zM98 612h1v2h-1zM99 614h1v2h-1zM100 616h1v2h-1zM102 619h1v2h-1zM105 623h1v2h-1zM131 612h1v2h-1zM138 604h1v2h-1zM146 597h1v2h-1zM147 595h1v2h-1zM196 606h1v2h-1zM244 593h1v2h-1zM245 591h1v2h-1zM247 588h1v2h-1zM248 586h1v2h-1zM249 584h1v2h-1zM250 582h1v2h-1zM251 579h1v3h-1zM252 577h1v2h-1zM253 574h1v3h-1zM254 571h1v3h-1zM255 569h1v2h-1zM256 566h1v3h-1zM257 564h1v2h-1zM258 561h1v3h-1zM259 559h1v2h-1zM260 556h1v3h-1zM261 554h1v2h-1zM262 551h1v3h-1zM263 549h1v2h-1zM264 546h1v3h-1zM265 544h1v2h-1zM266 542h1v2h-1zM267 540h1v2h-1zM268 538h1v2h-1zM270 535h1v2h-1zM275 529h1v2h-1zM278 525h1v2h-1zM279 523h1v2h-1zM281 520h1v2h-1zM283 517h1v2h-1zM284 515h1v2h-1zM286 512h1v2h-1zM287 510h1v2h-1zM294 507h1v2h-1zM297 503h1v2h-1zM300 499h1v2h-1zM301 497h1v2h-1zM302 495h1v2h-1zM303 492h1v3h-1zM304 489h1v3h-1zM305 487h1v2h-1zM306 484h1v3h-1zM307 481h1v3h-1zM308 477h1v4h-1zM309 473h1v4h-1zM310 469h1v4h-1zM311 465h1v4h-1zM312 461h1v4h-1zM313 458h1v3h-1zM314 454h1v4h-1zM315 451h1v3h-1zM316 448h1v3h-1zM317 445h1v3h-1zM318 441h1v4h-1zM319 438h1v3h-1zM320 435h1v3h-1zM321 432h1v3h-1zM322 428h1v4h-1zM323 425h1v3h-1zM324 422h1v3h-1zM325 418h1v4h-1zM326 415h1v3h-1zM327 413h1v2h-1zM328 410h1v3h-1zM329 407h1v3h-1zM330 405h1v2h-1zM331 402h1v3h-1zM332 400h1v2h-1zM333 398h1v2h-1zM334 395h1v3h-1zM335 393h1v2h-1zM336 391h1v2h-1zM337 389h1v2h-1zM338 387h1v2h-1zM339 385h1v2h-1zM340 383h1v2h-1zM341 381h1v2h-1zM342 379h1v2h-1zM343 377h1v2h-1zM344 375h1v2h-1zM347 371h1v2h-1zM349 368h1v2h-1zM352 364h1v2h-1zM355 360h1v2h-1zM362 354h1v2h-1zM364 351h1v2h-1zM366 348h1v2h-1zM373 343h1v2h-1zM375 340h1v2h-1zM378 336h1v2h-1zM380 333h1v2h-1zM382 330h1v2h-1zM384 327h1v2h-1zM385 325h1v2h-1zM387 322h1v2h-1zM388 320h1v2h-1zM389 317h1v3h-1zM390 314h1v3h-1zM391 311h1v3h-1zM392 309h1v2h-1zM393 306h1v3h-1zM394 303h1v3h-1zM395 300h1v3h-1zM396 297h1v3h-1zM397 294h1v3h-1zM398 291h1v3h-1zM399 289h1v2h-1zM400 286h1v3h-1zM401 283h1v3h-1zM402 281h1v2h-1zM405 277h1v2h-1zM409 275h1v2h-1zM412 279h1v2h-1zM413 281h1v2h-1zM414 283h1v2h-1zM415 285h1v2h-1zM416 287h1v3h-1zM417 290h1v2h-1zM418 292h1v3h-1zM419 295h1v2h-1zM420 297h1v2h-1zM421 299h1v3h-1zM422 302h1v2h-1zM423 304h1v3h-1zM424 307h1v2h-1zM425 309h1v3h-1zM426 312h1v3h-1zM427 315h1v2h-1zM428 317h1v2h-1zM429 319h1v2h-1zM430 321h1v2h-1zM431 323h1v2h-1zM432 325h1v2h-1zM433 327h1v2h-1zM434 329h1v2h-1zM435 331h1v2h-1zM436 333h1v2h-1zM437 335h1v2h-1zM438 337h1v2h-1zM439 339h1v2h-1zM440 341h1v2h-1zM449 344h1v2h-1zM450 340h1v4h-1zM451 336h1v4h-1zM452 332h1v4h-1zM453 328h1v4h-1zM454 324h1v4h-1zM455 320h1v4h-1zM456 315h1v5h-1zM457 311h1v4h-1zM458 307h1v4h-1zM459 303h1v4h-1zM460 299h1v4h-1zM461 295h1v4h-1zM462 291h1v4h-1zM463 288h1v3h-1zM464 285h1v3h-1zM465 283h1v2h-1zM466 280h1v3h-1zM467 277h1v3h-1zM468 274h1v3h-1zM469 272h1v2h-1zM470 270h1v2h-1zM471 267h1v3h-1zM472 265h1v2h-1zM473 263h1v2h-1zM474 261h1v2h-1zM475 259h1v2h-1zM477 256h1v2h-1zM478 254h1v2h-1zM480 251h1v2h-1zM481 249h1v2h-1zM484 245h1v2h-1zM487 241h1v2h-1zM490 237h1v2h-1zM497 234h1v2h-1zM498 231h1v3h-1zM499 229h1v2h-1zM500 226h1v3h-1zM501 223h1v3h-1zM502 221h1v2h-1zM503 219h1v2h-1zM504 217h1v2h-1zM505 215h1v2h-1zM506 213h1v2h-1zM507 211h1v2h-1zM508 209h1v2h-1zM509 207h1v2h-1zM510 205h1v2h-1zM511 203h1v2h-1zM537 184h1v2h-1zM538 186h1v2h-1zM539 188h1v2h-1zM540 190h1v2h-1zM541 192h1v2h-1zM542 194h1v2h-1zM543 196h1v2h-1zM544 198h1v2h-1zM545 200h1v2h-1zM546 202h1v2h-1zM547 204h1v2h-1zM548 206h1v2h-1zM550 209h1v2h-1zM552 212h1v2h-1zM553 214h1v2h-1zM555 217h1v2h-1zM594 225h1v2h-1zM599 219h1v2h-1zM602 215h1v2h-1zM604 212h1v2h-1zM606 209h1v2h-1zM608 206h1v2h-1zM609 204h1v2h-1zM611 201h1v2h-1zM616 197h1v2h-1zM617 199h1v2h-1zM618 201h1v3h-1zM619 204h1v3h-1zM620 207h1v2h-1zM621 209h1v2h-1zM622 211h1v2h-1zM623 213h1v2h-1zM625 216h1v2h-1zM626 218h1v2h-1zM628 221h1v2h-1zM629 223h1v2h-1zM631 226h1v2h-1zM632 228h1v2h-1zM633 230h1v2h-1zM634 232h1v2h-1zM635 234h1v2h-1zM636 236h1v2h-1zM637 238h1v2h-1zM638 240h1v3h-1zM639 243h1v2h-1zM640 245h1v2h-1zM641 247h1v2h-1zM642 249h1v2h-1zM643 251h1v3h-1zM644 254h1v2h-1zM645 256h1v2h-1zM646 258h1v2h-1zM647 260h1v2h-1zM648 262h1v2h-1zM650 265h1v2h-1zM652 268h1v2h-1zM653 270h1v2h-1zM655 273h1v2h-1zM657 273h1v2h-1zM658 271h1v2h-1zM660 268h1v2h-1zM661 266h1v2h-1zM662 264h1v2h-1zM701 248h1v2h-1zM702 246h1v2h-1zM703 244h1v2h-1zM704 242h1v2h-1zM705 240h1v2h-1zM706 237h1v3h-1zM707 234h1v3h-1zM708 231h1v3h-1zM709 228h1v3h-1zM710 225h1v3h-1zM711 223h1v2h-1zM712 221h1v2h-1zM713 219h1v2h-1zM714 216h1v3h-1zM715 214h1v2h-1zM716 212h1v2h-1zM717 209h1v3h-1zM718 207h1v2h-1zM719 205h1v2h-1zM720 202h1v3h-1zM721 200h1v2h-1zM722 198h1v2h-1zM723 196h1v2h-1zM725 193h1v2h-1zM727 190h1v2h-1zM729 187h1v2h-1zM731 184h1v2h-1zM732 182h1v2h-1zM733 180h1v2h-1zM734 178h1v2h-1zM735 176h1v2h-1zM736 174h1v2h-1zM737 172h1v2h-1zM738 170h1v2h-1zM739 168h1v2h-1zM740 165h1v3h-1zM741 162h1v3h-1zM742 160h1v2h-1zM743 157h1v3h-1zM744 154h1v3h-1zM745 152h1v2h-1zM746 150h1v2h-1zM747 148h1v2h-1zM748 146h1v2h-1zM749 144h1v2h-1zM750 142h1v2h-1zM751 141h1v1h-1zM536 183h1v1h-1zM535 184h1v1h-1zM534 185h1v1h-1zM533 186h1v1h-1zM730 186h1v1h-1zM532 187h1v1h-1zM530 188h2v1h-2zM528 189h2v1h-2zM728 189h1v1h-1zM527 190h1v1h-1zM525 191h2v1h-2zM524 192h1v1h-1zM726 192h1v1h-1zM523 193h1v1h-1zM521 194h2v1h-2zM520 195h1v1h-1zM724 195h1v1h-1zM519 196h1v1h-1zM518 197h1v1h-1zM516 198h2v1h-2zM614 198h2v1h-2zM515 199h1v1h-1zM613 199h1v1h-1zM514 200h1v1h-1zM612 200h1v1h-1zM513 201h1v1h-1zM512 202h1v1h-1zM610 203h1v1h-1zM549 208h1v1h-1zM607 208h1v1h-1zM551 211h1v1h-1zM605 211h1v1h-1zM603 214h1v1h-1zM624 215h1v1h-1zM554 216h1v1h-1zM601 217h1v1h-1zM600 218h1v1h-1zM556 219h1v1h-1zM557 220h1v1h-1zM627 220h1v1h-1zM558 221h1v1h-1zM598 221h1v1h-1zM559 222h1v1h-1zM597 222h1v1h-1zM560 223h2v1h-2zM596 223h1v1h-1zM562 224h1v1h-1zM595 224h1v1h-1zM563 225h1v1h-1zM630 225h1v1h-1zM564 226h1v1h-1zM565 227h2v1h-2zM593 227h1v1h-1zM567 228h2v1h-2zM581 228h4v1h-4zM592 228h1v1h-1zM569 229h2v1h-2zM575 229h6v1h-6zM585 229h4v1h-4zM591 229h1v1h-1zM571 230h4v1h-4zM589 230h2v1h-2zM494 235h3v1h-3zM491 236h3v1h-3zM489 239h1v1h-1zM488 240h1v1h-1zM486 243h1v1h-1zM485 244h1v1h-1zM483 247h1v1h-1zM482 248h1v1h-1zM699 250h2v1h-2zM697 251h2v1h-2zM695 252h2v1h-2zM479 253h1v1h-1zM693 253h2v1h-2zM691 254h2v1h-2zM689 255h2v1h-2zM687 256h2v1h-2zM685 257h2v1h-2zM476 258h1v1h-1zM683 258h2v1h-2zM681 259h2v1h-2zM679 260h2v1h-2zM676 261h3v1h-3zM674 262h2v1h-2zM663 263h11v1h-11zM649 264h1v1h-1zM651 267h1v1h-1zM659 270h1v1h-1zM654 272h1v1h-1zM408 274h1v1h-1zM407 275h1v1h-1zM656 275h1v1h-1zM406 276h1v1h-1zM410 277h1v1h-1zM411 278h1v1h-1zM404 279h1v1h-1zM403 280h1v1h-1zM386 324h1v1h-1zM383 329h1v1h-1zM381 332h1v1h-1zM379 335h1v1h-1zM377 338h1v1h-1zM376 339h1v1h-1zM374 342h1v1h-1zM441 343h1v1h-1zM442 344h1v1h-1zM371 345h2v1h-2zM443 345h1v1h-1zM369 346h2v1h-2zM444 346h5v1h-5zM367 347h2v1h-2zM365 350h1v1h-1zM363 353h1v1h-1zM360 356h2v1h-2zM358 357h2v1h-2zM357 358h1v1h-1zM356 359h1v1h-1zM354 362h1v1h-1zM353 363h1v1h-1zM351 366h1v1h-1zM350 367h1v1h-1zM348 370h1v1h-1zM346 373h1v1h-1zM345 374h1v1h-1zM299 501h1v1h-1zM298 502h1v1h-1zM296 505h1v1h-1zM295 506h1v1h-1zM0 507h1v1h-1zM288 509h6v1h-6zM2 510h1v1h-1zM4 513h1v1h-1zM285 514h1v1h-1zM6 516h1v1h-1zM282 519h1v1h-1zM9 521h1v1h-1zM280 522h1v1h-1zM11 524h1v1h-1zM61 525h1v1h-1zM60 526h1v1h-1zM62 526h1v1h-1zM13 527h1v1h-1zM58 527h2v1h-2zM63 527h1v1h-1zM277 527h1v1h-1zM57 528h1v1h-1zM64 528h2v1h-2zM276 528h1v1h-1zM56 529h1v1h-1zM66 529h1v1h-1zM15 530h1v1h-1zM54 530h2v1h-2zM16 531h1v1h-1zM52 531h2v1h-2zM274 531h1v1h-1zM17 532h1v1h-1zM49 532h3v1h-3zM273 532h1v1h-1zM44 533h5v1h-5zM272 533h1v1h-1zM41 534h3v1h-3zM271 534h1v1h-1zM19 535h1v1h-1zM40 535h1v1h-1zM20 536h1v1h-1zM39 536h1v1h-1zM21 537h1v1h-1zM37 537h2v1h-2zM269 537h1v1h-1zM22 538h1v1h-1zM36 538h1v1h-1zM23 539h1v1h-1zM35 539h1v1h-1zM24 540h1v1h-1zM34 540h1v1h-1zM33 541h1v1h-1zM31 542h2v1h-2zM26 543h1v1h-1zM30 543h1v1h-1zM27 544h1v1h-1zM29 544h1v1h-1zM28 545h1v1h-1zM246 590h1v1h-1zM148 594h5v1h-5zM153 595h6v1h-6zM243 595h1v1h-1zM159 596h2v1h-2zM211 596h1v1h-1zM241 596h2v1h-2zM161 597h2v1h-2zM210 597h1v1h-1zM212 597h1v1h-1zM240 597h1v1h-1zM163 598h2v1h-2zM209 598h1v1h-1zM213 598h1v1h-1zM239 598h1v1h-1zM144 599h2v1h-2zM165 599h2v1h-2zM207 599h2v1h-2zM214 599h2v1h-2zM237 599h2v1h-2zM142 600h2v1h-2zM167 600h1v1h-1zM206 600h1v1h-1zM216 600h1v1h-1zM229 600h8v1h-8zM141 601h1v1h-1zM168 601h1v1h-1zM205 601h1v1h-1zM217 601h1v1h-1zM225 601h4v1h-4zM140 602h1v1h-1zM169 602h2v1h-2zM202 602h3v1h-3zM218 602h7v1h-7zM139 603h1v1h-1zM171 603h3v1h-3zM199 603h3v1h-3zM174 604h3v1h-3zM198 604h1v1h-1zM177 605h1v1h-1zM197 605h1v1h-1zM137 606h1v1h-1zM178 606h2v1h-2zM136 607h1v1h-1zM180 607h1v1h-1zM135 608h1v1h-1zM181 608h2v1h-2zM195 608h1v1h-1zM134 609h1v1h-1zM183 609h2v1h-2zM194 609h1v1h-1zM133 610h1v1h-1zM185 610h2v1h-2zM191 610h3v1h-3zM132 611h1v1h-1zM187 611h4v1h-4zM130 614h1v1h-1zM129 615h1v1h-1zM128 616h1v1h-1zM127 617h1v1h-1zM101 618h1v1h-1zM126 618h1v1h-1zM124 619h2v1h-2zM123 620h1v1h-1zM103 621h1v1h-1zM122 621h1v1h-1zM104 622h1v1h-1zM121 622h1v1h-1zM120 623h1v1h-1zM118 624h2v1h-2zM106 625h1v1h-1zM117 625h1v1h-1zM107 626h10v1h-10z"/>
<path fill="#2e8b57" shape-rendering="crispEdges" d="M0 527h1v2h-1zM1 529h1v2h-1zM2 531h1v2h-1zM3 533h1v2h-1zM4 535h1v3h-1zM5 538h1v2h-1zM6 540h1v2h-1zM7 542h1v2h-1zM8 544h1v2h-1zM10 542h1v2h-1zM29 545h1v2h-1zM30 543h1v2h-1zM31 541h1v2h-1zM32 539h1v2h-1zM33 536h1v3h-1zM34 534h1v2h-1zM35 532h1v2h-1zM36 529h1v3h-1zM37 527h1v2h-1zM38 525h1v2h-1zM39 522h1v3h-1zM40 520h1v2h-1zM41 518h1v2h-1zM49 517h1v2h-1zM50 519h1v2h-1zM51 521h1v2h-1zM52 523h1v2h-1zM62 528h1v2h-1zM63 530h1v2h-1zM64 532h1v2h-1zM65 534h1v3h-1zM66 537h1v4h-1zM67 541h1v3h-1zM68 544h1v3h-1zM69 547h1v4h-1zM70 551h1v4h-1zM71 555h1v5h-1zM72 560h1v5h-1zM73 565h1v4h-1zM74 569h1v5h-1zM75 574h1v5h-1zM76 579h1v5h-1zM77 584h1v5h-1zM78 589h1v6h-1zM79 595h1v6h-1zM80 601h1v6h-1zM81 607h1v6h-1zM82 613h1v5h-1zM83 618h1v4h-1zM84 622h1v4h-1zM85 626h1v4h-1zM86 630h1v3h-1zM87 633h1v2h-1zM88 635h1v2h-1zM90 638h1v2h-1zM91 640h1v2h-1zM93 640h1v2h-1zM96 636h1v2h-1zM99 632h1v2h-1zM100 630h1v2h-1zM101 627h1v3h-1zM102 625h1v2h-1zM103 622h1v3h-1zM104 620h1v2h-1zM108 615h1v2h-1zM120 616h1v2h-1zM123 620h1v2h-1zM128 619h1v2h-1zM129 616h1v3h-1zM130 613h1v3h-1zM131 611h1v2h-1zM132 608h1v3h-1zM133 605h1v3h-1zM134 602h1v3h-1zM135 599h1v3h-1zM136 596h1v3h-1zM137 594h1v2h-1zM138 591h1v3h-1zM139 588h1v3h-1zM140 585h1v3h-1zM141 583h1v2h-1zM142 580h1v3h-1zM143 578h1v2h-1zM144 576h1v2h-1zM146 573h1v2h-1zM147 571h1v2h-1zM149 571h1v2h-1zM151 574h1v2h-1zM152 576h1v2h-1zM153 578h1v2h-1zM154 580h1v4h-1zM155 584h1v4h-1zM156 588h1v4h-1zM157 592h1v4h-1zM158 596h1v3h-1zM159 599h1v4h-1zM160 603h1v4h-1zM161 607h1v4h-1zM162 611h1v4h-1zM163 615h1v4h-1zM164 619h1v3h-1zM165 622h1v2h-1zM166 624h1v3h-1zM167 627h1v2h-1zM169 630h1v2h-1zM171 630h1v2h-1zM172 628h1v2h-1zM173 626h1v2h-1zM174 624h1v2h-1zM175 621h1v3h-1zM176 617h1v4h-1zM177 614h1v3h-1zM178 612h1v2h-1zM179 610h1v2h-1zM180 608h1v2h-1zM181 606h1v2h-1zM182 604h1v2h-1zM183 602h1v2h-1zM184 600h1v2h-1zM185 598h1v2h-1zM186 596h1v2h-1zM187 594h1v2h-1zM188 592h1v2h-1zM189 590h1v2h-1zM196 592h1v2h-1zM199 596h1v2h-1zM226 598h1v2h-1zM242 584h1v2h-1zM245 580h1v2h-1zM247 577h1v2h-1zM248 575h1v2h-1zM249 572h1v3h-1zM250 570h1v2h-1zM251 567h1v3h-1zM252 562h1v5h-1zM253 556h1v6h-1zM254 550h1v6h-1zM255 544h1v6h-1zM256 539h1v5h-1zM257 535h1v4h-1zM258 531h1v4h-1zM259 527h1v4h-1zM260 523h1v4h-1zM261 519h1v4h-1zM262 515h1v4h-1zM263 512h1v3h-1zM264 508h1v4h-1zM265 505h1v3h-1zM266 502h1v3h-1zM267 498h1v4h-1zM268 496h1v2h-1zM269 497h1v2h-1zM270 499h1v2h-1zM271 501h1v2h-1zM272 503h1v2h-1zM273 505h1v3h-1zM274 508h1v3h-1zM275 511h1v3h-1zM276 514h1v2h-1zM280 518h1v2h-1zM281 520h1v2h-1zM282 522h1v2h-1zM283 524h1v2h-1zM284 526h1v2h-1zM287 523h1v2h-1zM290 519h1v2h-1zM291 516h1v3h-1zM292 512h1v4h-1zM293 508h1v4h-1zM294 503h1v5h-1zM295 498h1v5h-1zM296 493h1v5h-1zM297 489h1v4h-1zM298 486h1v3h-1zM299 482h1v4h-1zM300 478h1v4h-1zM301 472h1v6h-1zM302 466h1v6h-1zM303 460h1v6h-1zM304 454h1v6h-1zM305 448h1v6h-1zM306 443h1v5h-1zM307 438h1v5h-1zM308 434h1v4h-1zM309 429h1v5h-1zM310 424h1v5h-1zM311 419h1v5h-1zM312 415h1v4h-1zM313 412h1v3h-1zM314 409h1v3h-1zM315 406h1v3h-1zM316 403h1v3h-1zM317 400h1v3h-1zM318 396h1v4h-1zM319 393h1v3h-1zM320 391h1v2h-1zM328 386h1v2h-1zM330 383h1v2h-1zM331 381h1v2h-1zM333 378h1v2h-1zM340 372h1v2h-1zM341 369h1v3h-1zM342 366h1v3h-1zM343 363h1v3h-1zM344 360h1v3h-1zM345 358h1v2h-1zM346 356h1v2h-1zM347 354h1v2h-1zM353 349h1v2h-1zM354 347h1v2h-1zM355 345h1v2h-1zM356 343h1v2h-1zM376 335h1v2h-1zM377 333h1v2h-1zM378 330h1v3h-1zM379 327h1v3h-1zM380 325h1v2h-1zM381 322h1v3h-1zM382 319h1v3h-1zM383 316h1v3h-1zM384 313h1v3h-1zM385 310h1v3h-1zM386 307h1v3h-1zM387 303h1v4h-1zM388 300h1v3h-1zM389 297h1v3h-1zM390 294h1v3h-1zM391 289h1v5h-1zM392 283h1v6h-1zM393 277h1v6h-1zM394 270h1v7h-1zM395 264h1v6h-1zM396 259h1v5h-1zM397 255h1v4h-1zM398 251h1v4h-1zM399 247h1v4h-1zM400 245h1v2h-1zM402 242h1v2h-1zM408 243h1v4h-1zM409 247h1v7h-1zM410 254h1v8h-1zM411 262h1v8h-1zM412 270h1v10h-1zM413 280h1v10h-1zM414 290h1v9h-1zM415 299h1v8h-1zM416 307h1v9h-1zM417 316h1v8h-1zM418 324h1v7h-1zM419 331h1v7h-1zM420 338h1v7h-1zM421 345h1v7h-1zM422 352h1v12h-1zM423 364h1v10h-1zM424 374h1v4h-1zM425 378h1v3h-1zM426 381h1v4h-1zM427 385h1v4h-1zM428 389h1v2h-1zM432 382h1v6h-1zM433 372h1v10h-1zM434 365h1v7h-1zM435 361h1v4h-1zM436 357h1v4h-1zM437 352h1v5h-1zM438 344h1v8h-1zM439 336h1v8h-1zM440 330h1v6h-1zM441 326h1v4h-1zM442 322h1v4h-1zM443 318h1v4h-1zM444 313h1v5h-1zM445 309h1v4h-1zM446 305h1v4h-1zM447 301h1v4h-1zM448 297h1v4h-1zM449 295h1v2h-1zM450 292h1v3h-1zM451 289h1v3h-1zM452 287h1v2h-1zM453 285h1v2h-1zM454 283h1v2h-1zM455 281h1v2h-1zM456 279h1v2h-1zM457 277h1v2h-1zM458 275h1v2h-1zM459 273h1v2h-1zM460 271h1v2h-1zM461 268h1v3h-1zM462 265h1v3h-1zM463 262h1v3h-1zM464 258h1v4h-1zM465 255h1v3h-1zM466 252h1v3h-1zM467 250h1v2h-1zM468 248h1v2h-1zM470 245h1v2h-1zM472 242h1v2h-1zM473 240h1v2h-1zM475 237h1v2h-1zM493 230h1v2h-1zM494 232h1v2h-1zM496 232h1v2h-1zM498 229h1v2h-1zM499 227h1v2h-1zM500 223h1v4h-1zM501 217h1v6h-1zM502 210h1v7h-1zM503 205h1v5h-1zM504 201h1v4h-1zM505 198h1v3h-1zM506 195h1v3h-1zM507 191h1v4h-1zM508 188h1v3h-1zM509 184h1v4h-1zM510 181h1v3h-1zM511 177h1v4h-1zM512 174h1v3h-1zM513 170h1v4h-1zM514 167h1v3h-1zM515 163h1v4h-1zM516 161h1v2h-1zM517 162h1v2h-1zM518 164h1v2h-1zM519 166h1v2h-1zM520 168h1v2h-1zM521 170h1v2h-1zM522 172h1v2h-1zM523 174h1v3h-1zM524 177h1v3h-1zM525 180h1v3h-1zM526 183h1v3h-1zM527 186h1v3h-1zM528 189h1v3h-1zM529 192h1v2h-1zM530 194h1v2h-1zM531 196h1v2h-1zM532 198h1v2h-1zM533 200h1v2h-1zM534 202h1v2h-1zM535 204h1v2h-1zM536 206h1v2h-1zM537 208h1v2h-1zM538 210h1v2h-1zM539 212h1v2h-1zM540 214h1v2h-1zM544 219h1v2h-1zM593 220h1v2h-1zM594 218h1v2h-1zM596 215h1v2h-1zM597 213h1v2h-1zM599 210h1v2h-1zM600 208h1v2h-1zM601 205h1v3h-1zM602 203h1v2h-1zM603 200h1v3h-1zM604 197h1v3h-1zM605 195h1v2h-1zM606 192h1v3h-1zM607 189h1v3h-1zM608 187h1v2h-1zM609 184h1v3h-1zM610 181h1v3h-1zM611 179h1v2h-1zM612 177h1v2h-1zM616 177h1v5h-1zM617 182h1v10h-1zM618 192h1v7h-1zM619 199h1v6h-1zM620 205h1v6h-1zM621 211h1v6h-1zM622 217h1v7h-1zM623 224h1v6h-1zM624 230h1v6h-1zM625 236h1v6h-1zM626 242h1v6h-1zM627 248h1v6h-1zM628 254h1v6h-1zM629 260h1v6h-1zM630 266h1v6h-1zM631 272h1v6h-1zM632 278h1v5h-1zM633 283h1v5h-1zM634 288h1v4h-1zM635 292h1v5h-1zM636 297h1v3h-1zM637 297h1v2h-1zM638 294h1v3h-1zM639 290h1v4h-1zM640 287h1v3h-1zM641 283h1v4h-1zM642 279h1v4h-1zM643 276h1v3h-1zM644 272h1v4h-1zM645 269h1v3h-1zM646 267h1v2h-1zM647 264h1v3h-1zM648 262h1v2h-1zM649 259h1v3h-1zM650 257h1v2h-1zM651 255h1v2h-1zM662 251h1v2h-1zM663 253h1v2h-1zM664 255h1v3h-1zM665 258h1v2h-1zM666 260h1v3h-1zM667 263h1v2h-1zM668 265h1v2h-1zM669 267h1v2h-1zM670 269h1v2h-1zM671 271h1v2h-1zM680 273h1v2h-1zM681 270h1v3h-1zM682 268h1v2h-1zM683 265h1v3h-1zM684 262h1v3h-1zM685 259h1v3h-1zM686 255h1v4h-1zM687 252h1v3h-1zM688 249h1v3h-1zM689 245h1v4h-1zM690 242h1v3h-1zM691 238h1v4h-1zM692 236h1v2h-1zM695 232h1v2h-1zM702 226h1v2h-1zM703 224h1v2h-1zM704 221h1v3h-1zM705 219h1v2h-1zM706 216h1v3h-1zM707 214h1v2h-1zM708 211h1v3h-1zM709 208h1v3h-1zM710 206h1v2h-1zM711 203h1v3h-1zM712 200h1v3h-1zM713 196h1v4h-1zM714 193h1v3h-1zM715 189h1v4h-1zM716 186h1v3h-1zM717 182h1v4h-1zM718 179h1v3h-1zM719 177h1v2h-1zM720 175h1v2h-1zM721 173h1v2h-1zM722 171h1v2h-1zM723 169h1v2h-1zM737 163h1v2h-1zM738 160h1v3h-1zM739 157h1v3h-1zM740 154h1v3h-1zM741 150h1v4h-1zM742 145h1v5h-1zM743 140h1v5h-1zM744 136h1v4h-1zM745 134h1v2h-1zM746 131h1v3h-1zM747 129h1v2h-1zM748 126h1v3h-1zM749 124h1v2h-1zM750 121h1v3h-1zM751 119h1v2h-1zM752 117h1v2h-1zM733 162h1v1h-1zM732 163h1v1h-1zM734 163h2v1h-2zM731 164h1v1h-1zM736 164h1v1h-1zM730 165h1v1h-1zM728 166h2v1h-2zM726 167h2v1h-2zM724 168h2v1h-2zM613 177h3v1h-3zM598 212h1v1h-1zM541 216h1v1h-1zM542 217h1v1h-1zM595 217h1v1h-1zM543 218h1v1h-1zM545 221h1v1h-1zM546 222h1v1h-1zM591 222h2v1h-2zM547 223h1v1h-1zM587 223h4v1h-4zM548 224h2v1h-2zM585 224h2v1h-2zM550 225h1v1h-1zM584 225h1v1h-1zM551 226h2v1h-2zM582 226h2v1h-2zM553 227h2v1h-2zM581 227h1v1h-1zM555 228h4v1h-4zM580 228h1v1h-1zM700 228h2v1h-2zM491 229h2v1h-2zM559 229h2v1h-2zM578 229h2v1h-2zM698 229h2v1h-2zM487 230h4v1h-4zM561 230h1v1h-1zM577 230h1v1h-1zM697 230h1v1h-1zM485 231h2v1h-2zM497 231h1v1h-1zM562 231h2v1h-2zM575 231h2v1h-2zM696 231h1v1h-1zM483 232h2v1h-2zM564 232h1v1h-1zM573 232h2v1h-2zM481 233h2v1h-2zM565 233h1v1h-1zM571 233h2v1h-2zM479 234h2v1h-2zM495 234h1v1h-1zM566 234h2v1h-2zM569 234h2v1h-2zM694 234h1v1h-1zM477 235h2v1h-2zM568 235h1v1h-1zM693 235h1v1h-1zM476 236h1v1h-1zM474 239h1v1h-1zM404 240h1v1h-1zM403 241h1v1h-1zM405 241h1v1h-1zM406 242h2v1h-2zM401 244h1v1h-1zM471 244h1v1h-1zM469 247h1v1h-1zM658 248h1v1h-1zM657 249h1v1h-1zM659 249h1v1h-1zM656 250h1v1h-1zM660 250h2v1h-2zM655 251h1v1h-1zM654 252h1v1h-1zM653 253h1v1h-1zM652 254h1v1h-1zM672 273h4v1h-4zM676 274h4v1h-4zM375 336h1v1h-1zM372 337h3v1h-3zM369 338h3v1h-3zM367 339h2v1h-2zM363 340h4v1h-4zM359 341h4v1h-4zM357 342h2v1h-2zM351 351h2v1h-2zM349 352h2v1h-2zM348 353h1v1h-1zM338 374h2v1h-2zM337 375h1v1h-1zM335 376h2v1h-2zM334 377h1v1h-1zM332 380h1v1h-1zM329 385h1v1h-1zM326 388h2v1h-2zM430 388h2v1h-2zM324 389h2v1h-2zM429 389h1v1h-1zM322 390h2v1h-2zM321 391h1v1h-1zM47 516h2v1h-2zM277 516h1v1h-1zM43 517h4v1h-4zM278 517h2v1h-2zM42 518h1v1h-1zM289 521h1v1h-1zM288 522h1v1h-1zM53 524h1v1h-1zM54 525h3v1h-3zM286 525h1v1h-1zM57 526h3v1h-3zM285 526h1v1h-1zM60 527h2v1h-2zM12 540h1v1h-1zM11 541h1v1h-1zM13 541h1v1h-1zM14 542h1v1h-1zM15 543h1v1h-1zM9 544h1v1h-1zM16 544h1v1h-1zM17 545h1v1h-1zM18 546h1v1h-1zM28 546h1v1h-1zM19 547h1v1h-1zM25 547h3v1h-3zM20 548h1v1h-1zM23 548h2v1h-2zM21 549h2v1h-2zM148 570h1v1h-1zM150 573h1v1h-1zM145 575h1v1h-1zM246 579h1v1h-1zM244 582h1v1h-1zM243 583h1v1h-1zM241 586h1v1h-1zM240 587h1v1h-1zM238 588h2v1h-2zM237 589h1v1h-1zM190 590h5v1h-5zM236 590h1v1h-1zM195 591h1v1h-1zM235 591h1v1h-1zM233 592h2v1h-2zM232 593h1v1h-1zM197 594h1v1h-1zM230 594h2v1h-2zM198 595h1v1h-1zM229 595h1v1h-1zM228 596h1v1h-1zM227 597h1v1h-1zM200 598h1v1h-1zM201 599h1v1h-1zM202 600h1v1h-1zM225 600h1v1h-1zM203 601h1v1h-1zM224 601h1v1h-1zM204 602h1v1h-1zM223 602h1v1h-1zM205 603h3v1h-3zM222 603h1v1h-1zM208 604h3v1h-3zM221 604h1v1h-1zM211 605h1v1h-1zM220 605h1v1h-1zM212 606h1v1h-1zM219 606h1v1h-1zM213 607h2v1h-2zM218 607h1v1h-1zM215 608h1v1h-1zM217 608h1v1h-1zM216 609h1v1h-1zM112 611h1v1h-1zM111 612h1v1h-1zM113 612h2v1h-2zM110 613h1v1h-1zM115 613h2v1h-2zM109 614h1v1h-1zM117 614h2v1h-2zM119 615h1v1h-1zM107 617h1v1h-1zM106 618h1v1h-1zM121 618h1v1h-1zM105 619h1v1h-1zM122 619h1v1h-1zM127 620h1v1h-1zM125 621h2v1h-2zM124 622h1v1h-1zM168 629h1v1h-1zM170 632h1v1h-1zM98 634h1v1h-1zM97 635h1v1h-1zM89 637h1v1h-1zM95 638h1v1h-1zM94 639h1v1h-1zM92 642h1v1h-1z"/>
<path fill="#ff0000" shape-rendering="crispEdges" d="M1024 111h1v1h-1zM1022 112h2v1h-2zM1021 113h1v1h-1zM1019 114h2v1h-2zM1018 115h1v1h-1zM1016 116h2v1h-2zM1014 117h2v1h-2zM1013 118h1v1h-1zM1011 119h2v1h-2zM1010 120h1v1h-1zM1008 121h2v1h-2zM1007 122h1v1h-1zM1005 123h2v1h-2zM1004 124h1v1h-1zM1002 125h2v1h-2zM1001 126h1v1h-1zM999 127h2v1h-2zM997 128h2v1h-2zM996 129h1v1h-1zM994 130h2v1h-2zM993 131h1v1h-1zM991 132h2v1h-2zM990 133h1v1h-1zM988 134h2v1h-2zM987 135h1v1h-1zM985 136h2v1h-2zM983 137h2v1h-2zM982 138h1v1h-1zM980 139h2v1h-2zM979 140h1v1h-1zM977 141h2v1h-2zM976 142h1v1h-1zM974 143h2v1h-2zM973 144h1v1h-1zM971 145h2v1h-2zM970 146h1v1h-1zM968 147h2v1h-2zM966 148h2v1h-2zM965 149h1v1h-1zM963 150h2v1h-2zM962 151h1v1h-1zM960 152h2v1h-2zM959 153h1v1h-1zM957 154h2v1h-2zM956 155h1v1h-1zM954 156h2v1h-2zM953 157h1v1h-1zM951 158h2v1h-2zM949 159h2v1h-2zM948 160h1v1h-1zM946 161h2v1h-2zM945 162h1v1h-1zM943 163h2v1h-2zM942 164h1v1h-1zM940 165h2v1h-2zM939 166h1v1h-1zM937 167h2v1h-2zM936 168h1v1h-1zM934 169h2v1h-2zM932 170h2v1h-2zM931 171h1v1h-1zM929 172h2v1h-2zM928 173h1v1h-1zM926 174h2v1h-2zM925 175h1v1h-1zM923 176h2v1h-2zM922 177h1v1h-1zM920 178h2v1h-2zM919 179h1v1h-1zM917 180h2v1h-2zM915 181h2v1h-2zM914 182h1v1h-1zM912 183h2v1h-2zM911 184h1v1h-1zM909 185h2v1h-2zM908 186h1v1h-1zM906 187h2v1h-2zM905 188h1v1h-1zM903 189h2v1h-2zM901 190h2v1h-2zM900 191h1v1h-1zM898 192h2v1h-2zM897 193h1v1h-1zM895 194h2v1h-2zM894 195h1v1h-1zM892 196h2v1h-2zM891 197h1v1h-1zM889 198h2v1h-2zM888 199h1v1h-1zM886 200h2v1h-2zM884 201h2v1h-2zM883 202h1v1h-1zM881 203h2v1h-2zM880 204h1v1h-1zM878 205h2v1h-2zM877 206h1v1h-1zM875 207h2v1h-2zM874 208h1v1h-1zM872 209h2v1h-2zM871 210h1v1h-1zM869 211h2v1h-2zM867 212h2v1h-2zM866 213h1v1h-1zM864 214h2v1h-2zM863 215h1v1h-1zM861 216h2v1h-2zM860 217h1v1h-1zM858 218h2v1h-2zM857 219h1v1h-1zM855 220h2v1h-2zM854 221h1v1h-1zM852 222h2v1h-2zM850 223h2v1h-2zM849 224h1v1h-1zM847 225h2v1h-2zM846 226h1v1h-1zM844 227h2v1h-2zM843 228h1v1h-1zM841 229h2v1h-2zM840 230h1v1h-1zM838 231h2v1h-2zM837 232h1v1h-1zM835 233h2v1h-2zM833 234h2v1h-2zM832 235h1v1h-1zM830 236h2v1h-2zM829 237h1v1h-1zM827 238h2v1h-2zM826 239h1v1h-1zM824 240h2v1h-2zM823 241h1v1h-1zM821 242h2v1h-2zM819 243h2v1h-2zM818 244h1v1h-1zM816 245h2v1h-2zM815 246h1v1h-1zM813 247h2v1h-2zM812 248h1v1h-1zM810 249h2v1h-2zM809 250h1v1h-1zM807 251h2v1h-2zM806 252h1v1h-1zM804 253h2v1h-2zM802 254h2v1h-2zM801 255h1v1h-1zM799 256h2v1h-2zM798 257h1v1h-1zM796 258h2v1h-2zM795 259h1v1h-1zM793 260h2v1h-2zM792 261h1v1h-1zM790 262h2v1h-2zM789 263h1v1h-1zM787 264h2v1h-2zM785 265h2v1h-2zM784 266h1v1h-1zM782 267h2v1h-2zM781 268h1v1h-1zM779 269h2v1h-2zM778 270h1v1h-1zM776 271h2v1h-2zM775 272h1v1h-1zM773 273h2v1h-2zM772 274h1v1h-1zM770 275h2v1h-2zM768 276h2v1h-2zM767 277h1v1h-1zM765 278h2v1h-2zM764 279h1v1h-1zM762 280h2v1h-2zM761 281h1v1h-1zM759 282h2v1h-2zM758 283h1v1h-1zM756 284h2v1h-2zM755 285h1v1h-1zM753 286h2v1h-2zM751 287h2v1h-2zM750 288h1v1h-1zM748 289h2v1h-2zM747 290h1v1h-1zM745 291h2v1h-2zM744 292h1v1h-1zM742 293h2v1h-2zM741 294h1v1h-1zM739 295h2v1h-2zM737 296h2v1h-2zM736 297h1v1h-1zM734 298h2v1h-2zM733 299h1v1h-1zM731 300h2v1h-2zM730 301h1v1h-1zM728 302h2v1h-2zM727 303h1v1h-1zM725 304h2v1h-2zM724 305h1v1h-1zM722 306h2v1h-2zM720 307h2v1h-2zM719 308h1v1h-1zM717 309h2v1h-2zM716 310h1v1h-1zM714 311h2v1h-2zM713 312h1v1h-1zM711 313h2v1h-2zM710 314h1v1h-1zM708 315h2v1h-2zM707 316h1v1h-1zM705 317h2v1h-2zM703 318h2v1h-2zM702 319h1v1h-1zM700 320h2v1h-2zM699 321h1v1h-1zM697 322h2v1h-2zM696 323h1v1h-1zM694 324h2v1h-2zM693 325h1v1h-1zM691 326h2v1h-2zM690 327h1v1h-1zM688 328h2v1h-2zM686 329h2v1h-2zM685 330h1v1h-1zM683 331h2v1h-2zM682 332h1v1h-1zM680 333h2v1h-2zM679 334h1v1h-1zM677 335h2v1h-2zM676 336h1v1h-1zM674 337h2v1h-2zM673 338h1v1h-1zM671 339h2v1h-2zM669 340h2v1h-2zM668 341h1v1h-1zM666 342h2v1h-2zM665 343h1v1h-1zM663 344h2v1h-2zM662 345h1v1h-1zM660 346h2v1h-2zM659 347h1v1h-1zM657 348h2v1h-2zM655 349h2v1h-2zM654 350h1v1h-1zM652 351h2v1h-2zM651 352h1v1h-1zM649 353h2v1h-2zM648 354h1v1h-1zM646 355h2v1h-2zM645 356h1v1h-1zM643 357h2v1h-2zM642 358h1v1h-1zM640 359h2v1h-2zM638 360h2v1h-2zM637 361h1v1h-1zM635 362h2v1h-2zM634 363h1v1h-1zM632 364h2v1h-2zM631 365h1v1h-1zM629 366h2v1h-2zM628 367h1v1h-1zM626 368h2v1h-2zM625 369h1v1h-1zM623 370h2v1h-2zM621 371h2v1h-2zM620 372h1v1h-1zM618 373h2v1h-2zM617 374h1v1h-1zM615 375h2v1h-2zM614 376h1v1h-1zM612 377h2v1h-2zM611 378h1v1h-1zM609 379h2v1h-2zM608 380h1v1h-1zM606 381h2v1h-2zM604 382h2v1h-2zM603 383h1v1h-1zM601 384h2v1h-2zM600 385h1v1h-1zM598 386h2v1h-2zM597 387h1v1h-1zM595 388h2v1h-2zM594 389h1v1h-1zM592 390h2v1h-2zM590 391h2v1h-2zM589 392h1v1h-1zM587 393h2v1h-2zM586 394h1v1h-1zM584 395h2v1h-2zM583 396h1v1h-1zM581 397h2v1h-2zM580 398h1v1h-1zM578 399h2v1h-2zM577 400h1v1h-1zM575 401h2v1h-2zM573 402h2v1h-2zM572 403h1v1h-1zM570 404h2v1h-2zM569 405h1v1h-1zM567 406h2v1h-2zM566 407h1v1h-1zM564 408h2v1h-2zM563 409h1v1h-1zM561 410h2v1h-2zM560 411h1v1h-1zM558 412h2v1h-2zM556 413h2v1h-2zM555 414h1v1h-1zM553 415h2v1h-2zM552 416h1v1h-1zM550 417h2v1h-2zM549 418h1v1h-1zM547 419h2v1h-2zM546 420h1v1h-1zM544 421h2v1h-2zM543 422h1v1h-1zM541 423h2v1h-2zM539 424h2v1h-2zM538 425h1v1h-1zM536 426h2v1h-2zM535 427h1v1h-1zM533 428h2v1h-2zM532 429h1v1h-1zM530 430h2v1h-2zM529 431h1v1h-1zM527 432h2v1h-2zM526 433h1v1h-1zM524 434h2v1h-2zM522 435h2v1h-2zM521 436h1v1h-1zM519 437h2v1h-2zM518 438h1v1h-1zM516 439h2v1h-2zM515 440h1v1h-1zM513 441h2v1h-2zM512 442h1v1h-1zM510 443h2v1h-2zM508 444h2v1h-2zM507 445h1v1h-1zM505 446h2v1h-2zM504 447h1v1h-1zM502 448h2v1h-2zM501 449h1v1h-1zM499 450h2v1h-2zM498 451h1v1h-1zM496 452h2v1h-2zM495 453h1v1h-1zM493 454h2v1h-2zM491 455h2v1h-2zM490 456h1v1h-1zM488 457h2v1h-2zM487 458h1v1h-1zM485 459h2v1h-2zM484 460h1v1h-1zM482 461h2v1h-2zM481 462h1v1h-1zM479 463h2v1h-2zM478 464h1v1h-1zM476 465h2v1h-2zM474 466h2v1h-2zM473 467h1v1h-1zM471 468h2v1h-2zM470 469h1v1h-1zM468 470h2v1h-2zM467 471h1v1h-1zM465 472h2v1h-2zM464 473h1v1h-1zM462 474h2v1h-2zM461 475h1v1h-1zM459 476h2v1h-2zM457 477h2v1h-2zM456 478h1v1h-1zM454 479h2v1h-2zM453 480h1v1h-1zM451 481h2v1h-2zM450 482h1v1h-1zM448 483h2v1h-2zM447 484h1v1h-1zM445 485h2v1h-2zM444 486h1v1h-1zM442 487h2v1h-2zM440 488h2v1h-2zM439 489h1v1h-1zM437 490h2v1h-2zM436 491h1v1h-1zM434 492h2v1h-2zM433 493h1v1h-1zM431 494h2v1h-2zM430 495h1v1h-1zM428 496h2v1h-2zM426 497h2v1h-2zM425 498h1v1h-1zM423 499h2v1h-2zM422 500h1v1h-1zM420 501h2v1h-2zM419 502h1v1h-1zM417 503h2v1h-2zM416 504h1v1h-1zM414 505h2v1h-2zM413 506h1v1h-1zM411 507h2v1h-2zM409 508h2v1h-2zM408 509h1v1h-1zM406 510h2v1h-2zM405 511h1v1h-1zM403 512h2v1h-2zM402 513h1v1h-1zM400 514h2v1h-2zM399 515h1v1h-1zM397 516h2v1h-2zM396 517h1v1h-1zM394 518h2v1h-2zM392 519h2v1h-2zM391 520h1v1h-1zM389 521h2v1h-2zM388 522h1v1h-1zM386 523h2v1h-2zM385 524h1v1h-1zM383 525h2v1h-2zM382 526h1v1h-1zM380 527h2v1h-2zM379 528h1v1h-1zM377 529h2v1h-2zM375 530h2v1h-2zM374 531h1v1h-1zM372 532h2v1h-2zM371 533h1v1h-1zM369 534h2v1h-2zM368 535h1v1h-1zM366 536h2v1h-2zM365 537h1v1h-1zM363 538h2v1h-2zM362 539h1v1h-1zM360 540h2v1h-2zM358 541h2v1h-2zM357 542h1v1h-1zM355 543h2v1h-2zM354 544h1v1h-1zM352 545h2v1h-2zM351 546h1v1h-1zM349 547h2v1h-2zM348 548h1v1h-1zM346 549h2v1h-2zM344 550h2v1h-2zM343 551h1v1h-1zM341 552h2v1h-2zM340 553h1v1h-1zM338 554h2v1h-2zM337 555h1v1h-1zM335 556h2v1h-2zM334 557h1v1h-1zM332 558h2v1h-2zM331 559h1v1h-1zM329 560h2v1h-2zM327 561h2v1h-2zM326 562h1v1h-1zM324 563h2v1h-2zM323 564h1v1h-1zM321 565h2v1h-2zM320 566h1v1h-1zM318 567h2v1h-2zM317 568h1v1h-1zM315 569h2v1h-2zM314 570h1v1h-1zM312 571h2v1h-2zM310 572h2v1h-2zM309 573h1v1h-1zM307 574h2v1h-2zM306 575h1v1h-1zM304 576h2v1h-2zM303 577h1v1h-1zM301 578h2v1h-2zM300 579h1v1h-1zM298 580h2v1h-2zM297 581h1v1h-1zM295 582h2v1h-2zM293 583h2v1h-2zM292 584h1v1h-1zM290 585h2v1h-2zM289 586h1v1h-1zM287 587h2v1h-2zM286 588h1v1h-1zM284 589h2v1h-2zM283 590h1v1h-1zM281 591h2v1h-2zM280 592h1v1h-1zM278 593h2v1h-2zM276 594h2v1h-2zM275 595h1v1h-1zM273 596h2v1h-2zM272 597h1v1h-1zM270 598h2v1h-2zM269 599h1v1h-1zM267 600h2v1h-2zM266 601h1v1h-1zM264 602h2v1h-2zM262 603h2v1h-2zM261 604h1v1h-1zM259 605h2v1h-2zM258 606h1v1h-1zM256 607h2v1h-2zM255 608h1v1h-1zM253 609h2v1h-2zM252 610h1v1h-1zM250 611h2v1h-2zM249 612h1v1h-1zM247 613h2v1h-2zM245 614h2v1h-2zM244 615h1v1h-1zM242 616h2v1h-2zM241 617h1v1h-1zM239 618h2v1h-2zM238 619h1v1h-1zM236 620h2v1h-2zM235 621h1v1h-1zM233 622h2v1h-2zM232 623h1v1h-1zM230 624h2v1h-2zM228 625h2v1h-2zM227 626h1v1h-1zM225 627h2v1h-2zM224 628h1v1h-1zM222 629h2v1h-2zM221 630h1v1h-1zM219 631h2v1h-2zM218 632h1v1h-1zM216 633h2v1h-2zM215 634h1v1h-1zM213 635h2v1h-2zM211 636h2v1h-2zM210 637h1v1h-1zM208 638h2v1h-2zM207 639h1v1h-1zM205 640h2v1h-2zM204 641h1v1h-1zM202 642h2v1h-2zM201 643h1v1h-1zM199 644h2v1h-2zM198 645h1v1h-1zM196 646h2v1h-2zM194 647h2v1h-2zM193 648h1v1h-1zM191 649h2v1h-2zM190 650h1v1h-1zM188 651h2v1h-2zM187 652h1v1h-1zM185 653h2v1h-2zM184 654h1v1h-1zM182 655h2v1h-2zM180 656h2v1h-2zM179 657h1v1h-1zM177 658h2v1h-2zM176 659h1v1h-1zM174 660h2v1h-2zM173 661h1v1h-1zM171 662h2v1h-2zM170 663h1v1h-1zM168 664h2v1h-2zM167 665h1v1h-1zM165 666h2v1h-2zM163 667h2v1h-2zM162 668h1v1h-1zM160 669h2v1h-2zM159 670h1v1h-1zM157 671h2v1h-2zM156 672h1v1h-1z"/>
<rect x="0" y="685" width="1024" height="1" fill="#ff0000"/>
<line x1="749.5" y1="60" x2="776.3" y2="148.3" stroke="#000" stroke-width="2.1"/>
<line x1="789.8" y1="148.3" x2="818.1" y2="6" stroke="#000" stroke-width="2.1"/>
<text class="t" x="61" y="0" font-size="26.15" transform="translate(0,64.8) scale(1,1.05)">黄金小时周期解析图</text>
<g class="t" font-size="27"><text x="807" y="172.5">3880</text><text transform="translate(866.8,175.2) skewX(-13) scale(1.1,1.13)" x="0" y="0">/</text><text x="880.5" y="172.5">3870</text></g>
<text class="t" x="467.5" y="0" font-size="26.05" transform="translate(0,601.4) scale(1,1.05)">没有什么撤退而言，黄金保持多头上涨趋势</text>
<text class="t" x="467.5" y="0" font-size="26.05" transform="translate(0,636) scale(1,1.05)">本周看涨不变，下方支撑<tspan dx="1.5" font-size="27">3880</tspan><tspan>，</tspan><tspan dx="2" font-size="27">3870</tspan><tspan dx="-0.9">继续多！</tspan></text>
<text x="817.9" y="671.1" font-size="20.5" font-weight="bold" font-family="&quot;Liberation Sans&quot;,&quot;Noto Sans CJK SC&quot;,sans-serif" fill="#000000" stroke="#000000" stroke-width="0.5">搜狐号@分析师山海</text>
<text x="816.8" y="670" font-size="20.5" font-weight="bold" font-family="&quot;Liberation Sans&quot;,&quot;Noto Sans CJK SC&quot;,sans-serif" fill="#ffffff">搜狐号@分析师山海</text>
</svg>
</body></html>
